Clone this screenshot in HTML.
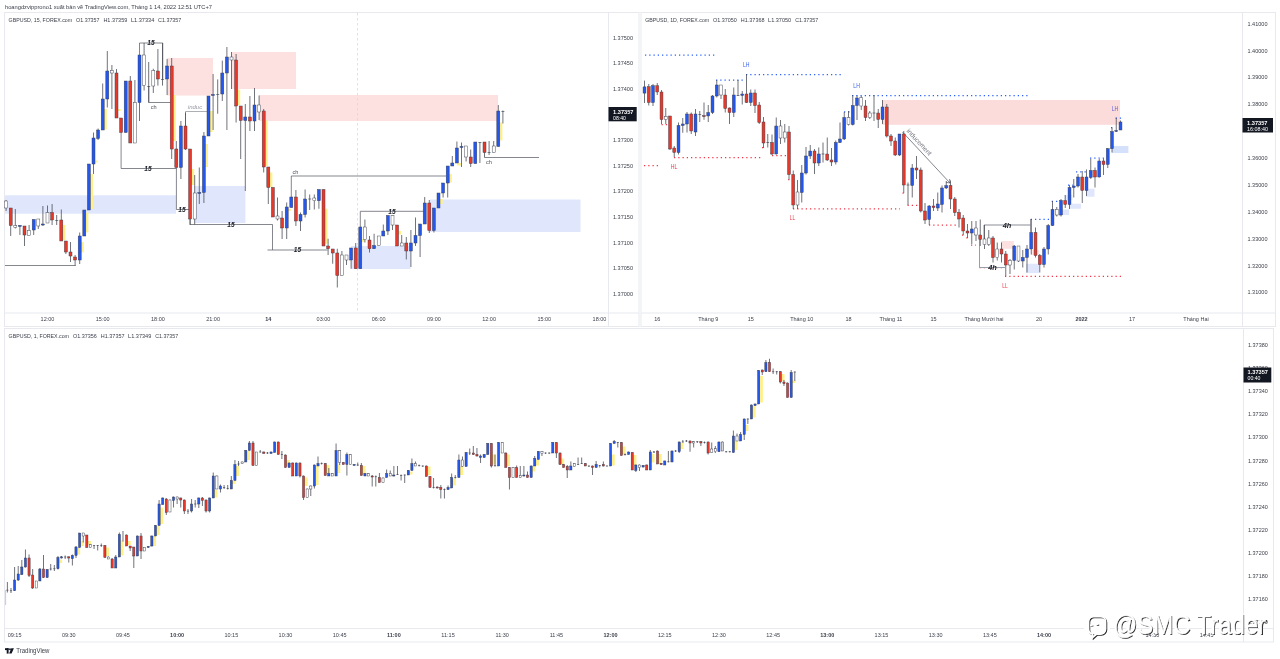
<!DOCTYPE html><html><head><meta charset="utf-8"><style>html,body{margin:0;padding:0;background:#fff}svg{display:block;will-change:transform;filter:blur(0.35px)}</style></head><body><svg width="1280" height="659" viewBox="0 0 1280 659" font-family="'Liberation Sans', sans-serif">
<rect width="1280" height="659" fill="#ffffff"/>
<rect x="4.5" y="12.5" width="634.5" height="314.0" fill="none" stroke="#e7e9ee" stroke-width="1"/>
<line x1="608.5" y1="12.5" x2="608.5" y2="326.5" stroke="#e7e9ee" stroke-width="1"/>
<line x1="4.5" y1="313" x2="639" y2="313" stroke="#e7e9ee" stroke-width="1"/>
<rect x="641" y="12.5" width="634.5" height="314.0" fill="none" stroke="#e7e9ee" stroke-width="1"/>
<line x1="1242.5" y1="12.5" x2="1242.5" y2="326.5" stroke="#e7e9ee" stroke-width="1"/>
<line x1="641" y1="313" x2="1275.5" y2="313" stroke="#e7e9ee" stroke-width="1"/>
<rect x="4.5" y="328.5" width="1269.0" height="313.5" fill="none" stroke="#e7e9ee" stroke-width="1"/>
<line x1="1243.5" y1="328.5" x2="1243.5" y2="642" stroke="#e7e9ee" stroke-width="1"/>
<line x1="4.5" y1="628.5" x2="1273.5" y2="628.5" stroke="#e7e9ee" stroke-width="1"/>
<text x="5" y="9.2" font-size="6.2" text-anchor="start" fill="#3b3f4a" font-weight="normal" font-style="normal" textLength="207" lengthAdjust="spacingAndGlyphs">hoangdzvipprono1 xuất bản về TradingView.com, Tháng 1 14, 2022 12:51 UTC+7</text>
<text x="8.6" y="22.1" font-size="5.6" text-anchor="start" fill="#3b3f4a" font-weight="normal" font-style="normal" textLength="63.6" lengthAdjust="spacingAndGlyphs">GBPUSD, 15, FOREX.com</text>
<text x="76.1" y="22.1" font-size="5.6" text-anchor="start" fill="#3b3f4a" font-weight="normal" font-style="normal" textLength="23.4" lengthAdjust="spacingAndGlyphs">O1.37357</text>
<text x="103.4" y="22.1" font-size="5.6" text-anchor="start" fill="#3b3f4a" font-weight="normal" font-style="normal" textLength="23.9" lengthAdjust="spacingAndGlyphs">H1.37359</text>
<text x="130.9" y="22.1" font-size="5.6" text-anchor="start" fill="#3b3f4a" font-weight="normal" font-style="normal" textLength="23.5" lengthAdjust="spacingAndGlyphs">L1.37334</text>
<text x="158.1" y="22.1" font-size="5.6" text-anchor="start" fill="#3b3f4a" font-weight="normal" font-style="normal" textLength="23.2" lengthAdjust="spacingAndGlyphs">C1.37357</text>
<text x="645.2" y="22.1" font-size="5.6" text-anchor="start" fill="#3b3f4a" font-weight="normal" font-style="normal" textLength="64.0" lengthAdjust="spacingAndGlyphs">GBPUSD, 1D, FOREX.com</text>
<text x="713.1" y="22.1" font-size="5.6" text-anchor="start" fill="#3b3f4a" font-weight="normal" font-style="normal" textLength="23.8" lengthAdjust="spacingAndGlyphs">O1.37050</text>
<text x="740.8" y="22.1" font-size="5.6" text-anchor="start" fill="#3b3f4a" font-weight="normal" font-style="normal" textLength="23.7" lengthAdjust="spacingAndGlyphs">H1.37368</text>
<text x="768.1" y="22.1" font-size="5.6" text-anchor="start" fill="#3b3f4a" font-weight="normal" font-style="normal" textLength="23.1" lengthAdjust="spacingAndGlyphs">L1.37050</text>
<text x="795.2" y="22.1" font-size="5.6" text-anchor="start" fill="#3b3f4a" font-weight="normal" font-style="normal" textLength="22.9" lengthAdjust="spacingAndGlyphs">C1.37357</text>
<text x="8.6" y="338.1" font-size="5.6" text-anchor="start" fill="#3b3f4a" font-weight="normal" font-style="normal" textLength="60.4" lengthAdjust="spacingAndGlyphs">GBPUSD, 1, FOREX.com</text>
<text x="73" y="338.1" font-size="5.6" text-anchor="start" fill="#3b3f4a" font-weight="normal" font-style="normal" textLength="23.9" lengthAdjust="spacingAndGlyphs">O1.37356</text>
<text x="100.8" y="338.1" font-size="5.6" text-anchor="start" fill="#3b3f4a" font-weight="normal" font-style="normal" textLength="23.7" lengthAdjust="spacingAndGlyphs">H1.37357</text>
<text x="128.1" y="338.1" font-size="5.6" text-anchor="start" fill="#3b3f4a" font-weight="normal" font-style="normal" textLength="23.2" lengthAdjust="spacingAndGlyphs">L1.37349</text>
<text x="155.2" y="338.1" font-size="5.6" text-anchor="start" fill="#3b3f4a" font-weight="normal" font-style="normal" textLength="22.9" lengthAdjust="spacingAndGlyphs">C1.37357</text>
<rect x="5" y="195.3" width="171" height="18.399999999999977" fill="#e0e7fd"/>
<rect x="194.5" y="186" width="50.900000000000006" height="37" fill="#e0e7fd"/>
<rect x="351" y="246" width="59.5" height="23" fill="#e0e7fd"/>
<rect x="430" y="199.5" width="150.5" height="32.5" fill="#e0e7fd"/>
<rect x="167" y="58" width="46" height="37.599999999999994" fill="#fde1e1"/>
<rect x="231.6" y="52" width="64.4" height="37" fill="#fde1e1"/>
<rect x="259" y="95" width="239" height="26" fill="#fde1e1"/>
<line x1="357.5" y1="13" x2="357.5" y2="313" stroke="#d2d4da" stroke-width="0.7" stroke-dasharray="2.5 2.5"/>
<line x1="5" y1="265.5" x2="75.75" y2="265.5" stroke="#50535e" stroke-width="0.7"/>
<polyline points="139.5,55 139.5,43 162.75,43 162.75,79" fill="none" stroke="#50535e" stroke-width="0.7"/>
<polyline points="148.75,86 148.75,102.5 171,102.5" fill="none" stroke="#50535e" stroke-width="0.7"/>
<polyline points="121.1,132.5 121.1,168.5 176.4,168.5" fill="none" stroke="#50535e" stroke-width="0.7"/>
<polyline points="176.4,167.5 176.4,209.5 189.5,209.5" fill="none" stroke="#50535e" stroke-width="0.7"/>
<polyline points="185.5,126 185.5,111.5 207,111.5" fill="none" stroke="#8a8d96" stroke-width="0.7"/>
<polyline points="190.1,219 190.1,224.5 272.5,224.5" fill="none" stroke="#50535e" stroke-width="0.7"/>
<polyline points="272.5,224.5 272.5,250 327.5,250" fill="none" stroke="#50535e" stroke-width="0.7"/>
<line x1="267.5" y1="250" x2="272.5" y2="250" stroke="#50535e" stroke-width="0.7"/>
<polyline points="291.3,197 291.3,176 446,176" fill="none" stroke="#50535e" stroke-width="0.7"/>
<polyline points="360.3,227 360.3,211.3 424,211.3" fill="none" stroke="#50535e" stroke-width="0.7"/>
<line x1="484.5" y1="157.5" x2="539" y2="157.5" stroke="#50535e" stroke-width="0.7"/>
<rect x="61.60" y="225" width="3.80" height="15.00" fill="#fff08c"/>
<rect x="80.00" y="242" width="3.80" height="10.50" fill="#fff08c"/>
<rect x="84.60" y="212.5" width="3.80" height="20.00" fill="#fff08c"/>
<rect x="89.20" y="174" width="3.80" height="35.00" fill="#fff08c"/>
<rect x="93.80" y="160.5" width="3.80" height="2.00" fill="#fff08c"/>
<rect x="103.00" y="109" width="3.80" height="20.50" fill="#fff08c"/>
<rect x="116.80" y="109" width="3.80" height="2.00" fill="#fff08c"/>
<rect x="172.00" y="95" width="3.80" height="46.00" fill="#fff08c"/>
<rect x="190.40" y="169" width="3.80" height="16.00" fill="#fff08c"/>
<rect x="204.20" y="144" width="3.80" height="23.00" fill="#fff08c"/>
<rect x="208.80" y="111" width="3.80" height="21.00" fill="#fff08c"/>
<rect x="236.40" y="89.5" width="3.80" height="15.50" fill="#fff08c"/>
<rect x="264.00" y="120.5" width="3.80" height="45.50" fill="#fff08c"/>
<rect x="268.60" y="172.5" width="3.80" height="14.50" fill="#fff08c"/>
<rect x="287.00" y="208.75" width="3.80" height="2.25" fill="#fff08c"/>
<rect x="323.80" y="208.75" width="3.80" height="35.00" fill="#fff08c"/>
<rect x="360.60" y="239" width="3.80" height="3.00" fill="#fff08c"/>
<rect x="397.40" y="231" width="3.80" height="3.50" fill="#fff08c"/>
<rect x="438.80" y="199" width="3.80" height="5.00" fill="#fff08c"/>
<rect x="448.00" y="174" width="3.80" height="8.50" fill="#fff08c"/>
<rect x="457.20" y="163" width="3.80" height="2.50" fill="#fff08c"/>
<rect x="498.60" y="122.5" width="3.80" height="18.00" fill="#fff08c"/>
<line x1="6.10" y1="200" x2="6.10" y2="211" stroke="#41444f" stroke-width="0.75"/>
<rect x="4.60" y="201" width="3.0" height="7.00" fill="#ffffff" stroke="#3a3d4a" stroke-width="0.45"/>
<line x1="10.70" y1="208" x2="10.70" y2="236" stroke="#41444f" stroke-width="0.75"/>
<rect x="9.20" y="208" width="3.0" height="17.50" fill="#e8382a" stroke="#3a3d4a" stroke-width="0.45"/>
<line x1="15.30" y1="209" x2="15.30" y2="228.5" stroke="#41444f" stroke-width="0.75"/>
<rect x="13.80" y="225.6" width="3.0" height="1.90" fill="#ffffff" stroke="#3a3d4a" stroke-width="0.45"/>
<line x1="19.90" y1="225" x2="19.90" y2="235" stroke="#41444f" stroke-width="0.75"/>
<rect x="18.40" y="225.5" width="3.0" height="1.00" fill="#2457ee" stroke="#3a3d4a" stroke-width="0.45"/>
<line x1="24.50" y1="226" x2="24.50" y2="246" stroke="#41444f" stroke-width="0.75"/>
<rect x="23.00" y="226" width="3.0" height="9.00" fill="#e8382a" stroke="#3a3d4a" stroke-width="0.45"/>
<line x1="29.10" y1="225" x2="29.10" y2="235.5" stroke="#41444f" stroke-width="0.75"/>
<rect x="27.60" y="230.5" width="3.0" height="5.00" fill="#ffffff" stroke="#3a3d4a" stroke-width="0.45"/>
<line x1="33.70" y1="219.5" x2="33.70" y2="235" stroke="#41444f" stroke-width="0.75"/>
<rect x="32.20" y="219.5" width="3.0" height="10.50" fill="#2457ee" stroke="#3a3d4a" stroke-width="0.45"/>
<line x1="38.30" y1="219" x2="38.30" y2="229" stroke="#41444f" stroke-width="0.75"/>
<rect x="36.80" y="219" width="3.0" height="7.00" fill="#ffffff" stroke="#3a3d4a" stroke-width="0.45"/>
<line x1="42.90" y1="206" x2="42.90" y2="226" stroke="#41444f" stroke-width="0.75"/>
<rect x="41.40" y="224" width="3.0" height="1.00" fill="#2457ee" stroke="#3a3d4a" stroke-width="0.45"/>
<line x1="47.50" y1="205.5" x2="47.50" y2="223" stroke="#41444f" stroke-width="0.75"/>
<rect x="46.00" y="212.5" width="3.0" height="10.50" fill="#ffffff" stroke="#3a3d4a" stroke-width="0.45"/>
<line x1="52.10" y1="204" x2="52.10" y2="225" stroke="#41444f" stroke-width="0.75"/>
<rect x="50.60" y="212.5" width="3.0" height="7.50" fill="#e8382a" stroke="#3a3d4a" stroke-width="0.45"/>
<line x1="56.70" y1="215" x2="56.70" y2="225" stroke="#41444f" stroke-width="0.75"/>
<rect x="55.20" y="220" width="3.0" height="0.60" fill="#3a3d4a"/>
<line x1="61.30" y1="209.5" x2="61.30" y2="241" stroke="#41444f" stroke-width="0.75"/>
<rect x="59.80" y="220" width="3.0" height="21.00" fill="#e8382a" stroke="#3a3d4a" stroke-width="0.45"/>
<line x1="65.90" y1="241" x2="65.90" y2="254" stroke="#41444f" stroke-width="0.75"/>
<rect x="64.40" y="241" width="3.0" height="11.00" fill="#e8382a" stroke="#3a3d4a" stroke-width="0.45"/>
<line x1="70.50" y1="242" x2="70.50" y2="262" stroke="#41444f" stroke-width="0.75"/>
<rect x="69.00" y="252" width="3.0" height="4.00" fill="#e8382a" stroke="#3a3d4a" stroke-width="0.45"/>
<line x1="75.10" y1="255" x2="75.10" y2="265.5" stroke="#41444f" stroke-width="0.75"/>
<rect x="73.60" y="257" width="3.0" height="3.00" fill="#e8382a" stroke="#3a3d4a" stroke-width="0.45"/>
<line x1="79.70" y1="232.5" x2="79.70" y2="264" stroke="#41444f" stroke-width="0.75"/>
<rect x="78.20" y="236" width="3.0" height="24.00" fill="#2457ee" stroke="#3a3d4a" stroke-width="0.45"/>
<line x1="84.30" y1="210" x2="84.30" y2="236" stroke="#41444f" stroke-width="0.75"/>
<rect x="82.80" y="210" width="3.0" height="26.00" fill="#2457ee" stroke="#3a3d4a" stroke-width="0.45"/>
<line x1="88.90" y1="164" x2="88.90" y2="210" stroke="#41444f" stroke-width="0.75"/>
<rect x="87.40" y="164" width="3.0" height="46.00" fill="#2457ee" stroke="#3a3d4a" stroke-width="0.45"/>
<line x1="93.50" y1="132.5" x2="93.50" y2="174" stroke="#41444f" stroke-width="0.75"/>
<rect x="92.00" y="138" width="3.0" height="26.00" fill="#2457ee" stroke="#3a3d4a" stroke-width="0.45"/>
<line x1="98.10" y1="128.5" x2="98.10" y2="140" stroke="#41444f" stroke-width="0.75"/>
<rect x="96.60" y="130" width="3.0" height="8.50" fill="#2457ee" stroke="#3a3d4a" stroke-width="0.45"/>
<line x1="102.70" y1="83.5" x2="102.70" y2="130" stroke="#41444f" stroke-width="0.75"/>
<rect x="101.20" y="99" width="3.0" height="31.00" fill="#2457ee" stroke="#3a3d4a" stroke-width="0.45"/>
<line x1="107.30" y1="51" x2="107.30" y2="107.5" stroke="#41444f" stroke-width="0.75"/>
<rect x="105.80" y="71" width="3.0" height="28.00" fill="#2457ee" stroke="#3a3d4a" stroke-width="0.45"/>
<line x1="111.90" y1="65" x2="111.90" y2="109" stroke="#41444f" stroke-width="0.75"/>
<rect x="110.40" y="70.6" width="3.0" height="2.40" fill="#ffffff" stroke="#3a3d4a" stroke-width="0.45"/>
<line x1="116.50" y1="69" x2="116.50" y2="118" stroke="#41444f" stroke-width="0.75"/>
<rect x="115.00" y="73" width="3.0" height="45.00" fill="#e8382a" stroke="#3a3d4a" stroke-width="0.45"/>
<line x1="121.10" y1="118" x2="121.10" y2="132.5" stroke="#41444f" stroke-width="0.75"/>
<rect x="119.60" y="118" width="3.0" height="14.50" fill="#e8382a" stroke="#3a3d4a" stroke-width="0.45"/>
<line x1="125.70" y1="81" x2="125.70" y2="132.5" stroke="#41444f" stroke-width="0.75"/>
<rect x="124.20" y="81" width="3.0" height="51.50" fill="#2457ee" stroke="#3a3d4a" stroke-width="0.45"/>
<line x1="130.30" y1="76" x2="130.30" y2="143" stroke="#41444f" stroke-width="0.75"/>
<rect x="128.80" y="81" width="3.0" height="62.00" fill="#e8382a" stroke="#3a3d4a" stroke-width="0.45"/>
<line x1="134.90" y1="80" x2="134.90" y2="143" stroke="#41444f" stroke-width="0.75"/>
<rect x="133.40" y="102.5" width="3.0" height="40.50" fill="#ffffff" stroke="#3a3d4a" stroke-width="0.45"/>
<line x1="139.50" y1="55" x2="139.50" y2="121" stroke="#41444f" stroke-width="0.75"/>
<rect x="138.00" y="55" width="3.0" height="47.50" fill="#2457ee" stroke="#3a3d4a" stroke-width="0.45"/>
<line x1="144.10" y1="43" x2="144.10" y2="90.5" stroke="#41444f" stroke-width="0.75"/>
<rect x="142.60" y="55" width="3.0" height="30.50" fill="#ffffff" stroke="#3a3d4a" stroke-width="0.45"/>
<line x1="148.70" y1="62" x2="148.70" y2="102.5" stroke="#41444f" stroke-width="0.75"/>
<rect x="147.20" y="86" width="3.0" height="0.60" fill="#3a3d4a"/>
<line x1="153.30" y1="68.75" x2="153.30" y2="93" stroke="#41444f" stroke-width="0.75"/>
<rect x="151.80" y="70.6" width="3.0" height="15.40" fill="#ffffff" stroke="#3a3d4a" stroke-width="0.45"/>
<line x1="157.90" y1="49" x2="157.90" y2="85.6" stroke="#41444f" stroke-width="0.75"/>
<rect x="156.40" y="71" width="3.0" height="8.00" fill="#e8382a" stroke="#3a3d4a" stroke-width="0.45"/>
<line x1="162.50" y1="43" x2="162.50" y2="85.6" stroke="#41444f" stroke-width="0.75"/>
<rect x="161.00" y="79.2" width="3.0" height="0.60" fill="#3a3d4a"/>
<line x1="167.10" y1="59" x2="167.10" y2="95" stroke="#41444f" stroke-width="0.75"/>
<rect x="165.60" y="66" width="3.0" height="13.00" fill="#2457ee" stroke="#3a3d4a" stroke-width="0.45"/>
<line x1="171.70" y1="58" x2="171.70" y2="159" stroke="#41444f" stroke-width="0.75"/>
<rect x="170.20" y="66" width="3.0" height="83.00" fill="#e8382a" stroke="#3a3d4a" stroke-width="0.45"/>
<line x1="176.30" y1="141" x2="176.30" y2="167.5" stroke="#41444f" stroke-width="0.75"/>
<rect x="174.80" y="149" width="3.0" height="18.50" fill="#e8382a" stroke="#3a3d4a" stroke-width="0.45"/>
<line x1="180.90" y1="121" x2="180.90" y2="179" stroke="#41444f" stroke-width="0.75"/>
<rect x="179.40" y="126" width="3.0" height="41.50" fill="#2457ee" stroke="#3a3d4a" stroke-width="0.45"/>
<line x1="185.50" y1="112.5" x2="185.50" y2="150" stroke="#41444f" stroke-width="0.75"/>
<rect x="184.00" y="126" width="3.0" height="23.00" fill="#e8382a" stroke="#3a3d4a" stroke-width="0.45"/>
<line x1="190.10" y1="149" x2="190.10" y2="225" stroke="#41444f" stroke-width="0.75"/>
<rect x="188.60" y="149" width="3.0" height="70.00" fill="#e8382a" stroke="#3a3d4a" stroke-width="0.45"/>
<line x1="194.70" y1="175" x2="194.70" y2="224.5" stroke="#41444f" stroke-width="0.75"/>
<rect x="193.20" y="193" width="3.0" height="26.00" fill="#ffffff" stroke="#3a3d4a" stroke-width="0.45"/>
<line x1="199.30" y1="167.5" x2="199.30" y2="204" stroke="#41444f" stroke-width="0.75"/>
<rect x="197.80" y="192.5" width="3.0" height="1.00" fill="#2457ee" stroke="#3a3d4a" stroke-width="0.45"/>
<line x1="203.90" y1="132" x2="203.90" y2="203" stroke="#41444f" stroke-width="0.75"/>
<rect x="202.40" y="136" width="3.0" height="56.50" fill="#2457ee" stroke="#3a3d4a" stroke-width="0.45"/>
<line x1="208.50" y1="96" x2="208.50" y2="136" stroke="#41444f" stroke-width="0.75"/>
<rect x="207.00" y="96" width="3.0" height="40.00" fill="#2457ee" stroke="#3a3d4a" stroke-width="0.45"/>
<line x1="213.10" y1="74" x2="213.10" y2="130" stroke="#41444f" stroke-width="0.75"/>
<rect x="211.60" y="94.5" width="3.0" height="1.00" fill="#2457ee" stroke="#3a3d4a" stroke-width="0.45"/>
<line x1="217.70" y1="79.4" x2="217.70" y2="113.75" stroke="#41444f" stroke-width="0.75"/>
<rect x="216.20" y="94.2" width="3.0" height="0.60" fill="#3a3d4a"/>
<line x1="222.30" y1="60.6" x2="222.30" y2="101" stroke="#41444f" stroke-width="0.75"/>
<rect x="220.80" y="73" width="3.0" height="21.00" fill="#2457ee" stroke="#3a3d4a" stroke-width="0.45"/>
<line x1="226.90" y1="47" x2="226.90" y2="130" stroke="#41444f" stroke-width="0.75"/>
<rect x="225.40" y="57" width="3.0" height="16.00" fill="#2457ee" stroke="#3a3d4a" stroke-width="0.45"/>
<line x1="231.50" y1="52" x2="231.50" y2="89" stroke="#41444f" stroke-width="0.75"/>
<rect x="230.00" y="57" width="3.0" height="3.00" fill="#ffffff" stroke="#3a3d4a" stroke-width="0.45"/>
<line x1="236.10" y1="54" x2="236.10" y2="122.5" stroke="#41444f" stroke-width="0.75"/>
<rect x="234.60" y="60" width="3.0" height="46.00" fill="#e8382a" stroke="#3a3d4a" stroke-width="0.45"/>
<line x1="240.70" y1="106" x2="240.70" y2="159" stroke="#41444f" stroke-width="0.75"/>
<rect x="239.20" y="106" width="3.0" height="14.50" fill="#e8382a" stroke="#3a3d4a" stroke-width="0.45"/>
<line x1="245.30" y1="104" x2="245.30" y2="191" stroke="#41444f" stroke-width="0.75"/>
<rect x="243.80" y="117" width="3.0" height="3.50" fill="#2457ee" stroke="#3a3d4a" stroke-width="0.45"/>
<line x1="249.90" y1="96" x2="249.90" y2="131" stroke="#41444f" stroke-width="0.75"/>
<rect x="248.40" y="117" width="3.0" height="4.00" fill="#e8382a" stroke="#3a3d4a" stroke-width="0.45"/>
<line x1="254.50" y1="88" x2="254.50" y2="131" stroke="#41444f" stroke-width="0.75"/>
<rect x="253.00" y="105" width="3.0" height="16.00" fill="#2457ee" stroke="#3a3d4a" stroke-width="0.45"/>
<line x1="259.10" y1="95.5" x2="259.10" y2="120" stroke="#41444f" stroke-width="0.75"/>
<rect x="257.60" y="105" width="3.0" height="7.00" fill="#ffffff" stroke="#3a3d4a" stroke-width="0.45"/>
<line x1="263.70" y1="109" x2="263.70" y2="172.5" stroke="#41444f" stroke-width="0.75"/>
<rect x="262.20" y="111" width="3.0" height="56.00" fill="#e8382a" stroke="#3a3d4a" stroke-width="0.45"/>
<line x1="268.30" y1="167" x2="268.30" y2="204" stroke="#41444f" stroke-width="0.75"/>
<rect x="266.80" y="167" width="3.0" height="20.50" fill="#e8382a" stroke="#3a3d4a" stroke-width="0.45"/>
<line x1="272.90" y1="187.5" x2="272.90" y2="217" stroke="#41444f" stroke-width="0.75"/>
<rect x="271.40" y="187.5" width="3.0" height="29.50" fill="#e8382a" stroke="#3a3d4a" stroke-width="0.45"/>
<line x1="277.50" y1="197.5" x2="277.50" y2="220.5" stroke="#41444f" stroke-width="0.75"/>
<rect x="276.00" y="216" width="3.0" height="3.00" fill="#ffffff" stroke="#3a3d4a" stroke-width="0.45"/>
<line x1="282.10" y1="211" x2="282.10" y2="239" stroke="#41444f" stroke-width="0.75"/>
<rect x="280.60" y="218" width="3.0" height="10.00" fill="#e8382a" stroke="#3a3d4a" stroke-width="0.45"/>
<line x1="286.70" y1="202.5" x2="286.70" y2="239" stroke="#41444f" stroke-width="0.75"/>
<rect x="285.20" y="207" width="3.0" height="21.00" fill="#2457ee" stroke="#3a3d4a" stroke-width="0.45"/>
<line x1="291.30" y1="197" x2="291.30" y2="207.5" stroke="#41444f" stroke-width="0.75"/>
<rect x="289.80" y="197" width="3.0" height="10.50" fill="#2457ee" stroke="#3a3d4a" stroke-width="0.45"/>
<line x1="295.90" y1="190" x2="295.90" y2="226" stroke="#41444f" stroke-width="0.75"/>
<rect x="294.40" y="197" width="3.0" height="24.00" fill="#e8382a" stroke="#3a3d4a" stroke-width="0.45"/>
<line x1="300.50" y1="212.5" x2="300.50" y2="231" stroke="#41444f" stroke-width="0.75"/>
<rect x="299.00" y="214.5" width="3.0" height="6.50" fill="#2457ee" stroke="#3a3d4a" stroke-width="0.45"/>
<line x1="305.10" y1="189.5" x2="305.10" y2="217.5" stroke="#41444f" stroke-width="0.75"/>
<rect x="303.60" y="199" width="3.0" height="15.50" fill="#2457ee" stroke="#3a3d4a" stroke-width="0.45"/>
<line x1="309.70" y1="194.5" x2="309.70" y2="210" stroke="#41444f" stroke-width="0.75"/>
<rect x="308.20" y="198.7" width="3.0" height="0.60" fill="#3a3d4a"/>
<line x1="314.30" y1="194.5" x2="314.30" y2="209.5" stroke="#41444f" stroke-width="0.75"/>
<rect x="312.80" y="198" width="3.0" height="2.75" fill="#ffffff" stroke="#3a3d4a" stroke-width="0.45"/>
<line x1="318.90" y1="189.5" x2="318.90" y2="208.75" stroke="#41444f" stroke-width="0.75"/>
<rect x="317.40" y="189.5" width="3.0" height="11.25" fill="#2457ee" stroke="#3a3d4a" stroke-width="0.45"/>
<line x1="323.50" y1="189.5" x2="323.50" y2="246" stroke="#41444f" stroke-width="0.75"/>
<rect x="322.00" y="189.5" width="3.0" height="56.50" fill="#e8382a" stroke="#3a3d4a" stroke-width="0.45"/>
<line x1="328.10" y1="238.75" x2="328.10" y2="255" stroke="#41444f" stroke-width="0.75"/>
<rect x="326.60" y="246" width="3.0" height="2.75" fill="#e8382a" stroke="#3a3d4a" stroke-width="0.45"/>
<line x1="332.70" y1="249" x2="332.70" y2="263.75" stroke="#41444f" stroke-width="0.75"/>
<rect x="331.20" y="249" width="3.0" height="4.00" fill="#e8382a" stroke="#3a3d4a" stroke-width="0.45"/>
<line x1="337.30" y1="248.75" x2="337.30" y2="287.5" stroke="#41444f" stroke-width="0.75"/>
<rect x="335.80" y="253" width="3.0" height="22.50" fill="#e8382a" stroke="#3a3d4a" stroke-width="0.45"/>
<line x1="341.90" y1="251" x2="341.90" y2="275.5" stroke="#41444f" stroke-width="0.75"/>
<rect x="340.40" y="255" width="3.0" height="20.50" fill="#ffffff" stroke="#3a3d4a" stroke-width="0.45"/>
<line x1="346.50" y1="255" x2="346.50" y2="265" stroke="#41444f" stroke-width="0.75"/>
<rect x="345.00" y="255" width="3.0" height="5.00" fill="#ffffff" stroke="#3a3d4a" stroke-width="0.45"/>
<line x1="351.10" y1="248" x2="351.10" y2="268.75" stroke="#41444f" stroke-width="0.75"/>
<rect x="349.60" y="248" width="3.0" height="12.00" fill="#2457ee" stroke="#3a3d4a" stroke-width="0.45"/>
<line x1="355.70" y1="243" x2="355.70" y2="268.75" stroke="#41444f" stroke-width="0.75"/>
<rect x="354.20" y="248" width="3.0" height="20.75" fill="#e8382a" stroke="#3a3d4a" stroke-width="0.45"/>
<line x1="360.30" y1="227" x2="360.30" y2="268.75" stroke="#41444f" stroke-width="0.75"/>
<rect x="358.80" y="227" width="3.0" height="41.75" fill="#2457ee" stroke="#3a3d4a" stroke-width="0.45"/>
<line x1="364.90" y1="219.5" x2="364.90" y2="242.5" stroke="#41444f" stroke-width="0.75"/>
<rect x="363.40" y="227" width="3.0" height="12.50" fill="#ffffff" stroke="#3a3d4a" stroke-width="0.45"/>
<line x1="369.50" y1="236" x2="369.50" y2="252.5" stroke="#41444f" stroke-width="0.75"/>
<rect x="368.00" y="240" width="3.0" height="8.75" fill="#e8382a" stroke="#3a3d4a" stroke-width="0.45"/>
<line x1="374.10" y1="233.75" x2="374.10" y2="248.75" stroke="#41444f" stroke-width="0.75"/>
<rect x="372.60" y="245.5" width="3.0" height="3.25" fill="#2457ee" stroke="#3a3d4a" stroke-width="0.45"/>
<line x1="378.70" y1="236" x2="378.70" y2="245.5" stroke="#41444f" stroke-width="0.75"/>
<rect x="377.20" y="236" width="3.0" height="9.50" fill="#ffffff" stroke="#3a3d4a" stroke-width="0.45"/>
<line x1="383.30" y1="224.5" x2="383.30" y2="236" stroke="#41444f" stroke-width="0.75"/>
<rect x="381.80" y="231" width="3.0" height="5.00" fill="#2457ee" stroke="#3a3d4a" stroke-width="0.45"/>
<line x1="387.90" y1="215.5" x2="387.90" y2="235" stroke="#41444f" stroke-width="0.75"/>
<rect x="386.40" y="215.5" width="3.0" height="15.50" fill="#2457ee" stroke="#3a3d4a" stroke-width="0.45"/>
<line x1="392.50" y1="215.5" x2="392.50" y2="230" stroke="#41444f" stroke-width="0.75"/>
<rect x="391.00" y="215.5" width="3.0" height="9.50" fill="#ffffff" stroke="#3a3d4a" stroke-width="0.45"/>
<line x1="397.10" y1="225" x2="397.10" y2="246" stroke="#41444f" stroke-width="0.75"/>
<rect x="395.60" y="225" width="3.0" height="21.00" fill="#e8382a" stroke="#3a3d4a" stroke-width="0.45"/>
<line x1="401.70" y1="235" x2="401.70" y2="246" stroke="#41444f" stroke-width="0.75"/>
<rect x="400.20" y="243" width="3.0" height="3.00" fill="#ffffff" stroke="#3a3d4a" stroke-width="0.45"/>
<line x1="406.30" y1="237" x2="406.30" y2="259.5" stroke="#41444f" stroke-width="0.75"/>
<rect x="404.80" y="243" width="3.0" height="8.00" fill="#e8382a" stroke="#3a3d4a" stroke-width="0.45"/>
<line x1="410.90" y1="230" x2="410.90" y2="267" stroke="#41444f" stroke-width="0.75"/>
<rect x="409.40" y="243" width="3.0" height="8.00" fill="#2457ee" stroke="#3a3d4a" stroke-width="0.45"/>
<line x1="415.50" y1="217.5" x2="415.50" y2="246" stroke="#41444f" stroke-width="0.75"/>
<rect x="414.00" y="235.5" width="3.0" height="7.50" fill="#2457ee" stroke="#3a3d4a" stroke-width="0.45"/>
<line x1="420.10" y1="224" x2="420.10" y2="257" stroke="#41444f" stroke-width="0.75"/>
<rect x="418.60" y="224" width="3.0" height="11.50" fill="#2457ee" stroke="#3a3d4a" stroke-width="0.45"/>
<line x1="424.70" y1="197" x2="424.70" y2="224" stroke="#41444f" stroke-width="0.75"/>
<rect x="423.20" y="203" width="3.0" height="21.00" fill="#2457ee" stroke="#3a3d4a" stroke-width="0.45"/>
<line x1="429.30" y1="200" x2="429.30" y2="233" stroke="#41444f" stroke-width="0.75"/>
<rect x="427.80" y="203" width="3.0" height="27.50" fill="#e8382a" stroke="#3a3d4a" stroke-width="0.45"/>
<line x1="433.90" y1="208" x2="433.90" y2="232.5" stroke="#41444f" stroke-width="0.75"/>
<rect x="432.40" y="208" width="3.0" height="22.50" fill="#2457ee" stroke="#3a3d4a" stroke-width="0.45"/>
<line x1="438.50" y1="193" x2="438.50" y2="208" stroke="#41444f" stroke-width="0.75"/>
<rect x="437.00" y="193" width="3.0" height="15.00" fill="#2457ee" stroke="#3a3d4a" stroke-width="0.45"/>
<line x1="443.10" y1="183" x2="443.10" y2="197.5" stroke="#41444f" stroke-width="0.75"/>
<rect x="441.60" y="183" width="3.0" height="10.00" fill="#2457ee" stroke="#3a3d4a" stroke-width="0.45"/>
<line x1="447.70" y1="166" x2="447.70" y2="197.5" stroke="#41444f" stroke-width="0.75"/>
<rect x="446.20" y="166" width="3.0" height="17.00" fill="#2457ee" stroke="#3a3d4a" stroke-width="0.45"/>
<line x1="452.30" y1="156" x2="452.30" y2="166" stroke="#41444f" stroke-width="0.75"/>
<rect x="450.80" y="163" width="3.0" height="3.00" fill="#2457ee" stroke="#3a3d4a" stroke-width="0.45"/>
<line x1="456.90" y1="141.5" x2="456.90" y2="163" stroke="#41444f" stroke-width="0.75"/>
<rect x="455.40" y="148" width="3.0" height="15.00" fill="#2457ee" stroke="#3a3d4a" stroke-width="0.45"/>
<line x1="461.50" y1="142.5" x2="461.50" y2="167" stroke="#41444f" stroke-width="0.75"/>
<rect x="460.00" y="146.5" width="3.0" height="1.00" fill="#2457ee" stroke="#3a3d4a" stroke-width="0.45"/>
<line x1="466.10" y1="146" x2="466.10" y2="161.5" stroke="#41444f" stroke-width="0.75"/>
<rect x="464.60" y="146" width="3.0" height="11.00" fill="#ffffff" stroke="#3a3d4a" stroke-width="0.45"/>
<line x1="470.70" y1="149.5" x2="470.70" y2="167" stroke="#41444f" stroke-width="0.75"/>
<rect x="469.20" y="157" width="3.0" height="6.50" fill="#e8382a" stroke="#3a3d4a" stroke-width="0.45"/>
<line x1="475.30" y1="142" x2="475.30" y2="163.5" stroke="#41444f" stroke-width="0.75"/>
<rect x="473.80" y="142" width="3.0" height="21.50" fill="#2457ee" stroke="#3a3d4a" stroke-width="0.45"/>
<line x1="479.90" y1="142" x2="479.90" y2="163" stroke="#41444f" stroke-width="0.75"/>
<rect x="478.40" y="142.2" width="3.0" height="0.60" fill="#3a3d4a"/>
<line x1="484.50" y1="142" x2="484.50" y2="157.5" stroke="#41444f" stroke-width="0.75"/>
<rect x="483.00" y="142" width="3.0" height="10.50" fill="#e8382a" stroke="#3a3d4a" stroke-width="0.45"/>
<line x1="489.10" y1="141" x2="489.10" y2="155" stroke="#41444f" stroke-width="0.75"/>
<rect x="487.60" y="152.2" width="3.0" height="0.60" fill="#3a3d4a"/>
<line x1="493.70" y1="141" x2="493.70" y2="152.5" stroke="#41444f" stroke-width="0.75"/>
<rect x="492.20" y="146" width="3.0" height="6.50" fill="#ffffff" stroke="#3a3d4a" stroke-width="0.45"/>
<line x1="498.30" y1="105" x2="498.30" y2="146.5" stroke="#41444f" stroke-width="0.75"/>
<rect x="496.80" y="111" width="3.0" height="35.50" fill="#2457ee" stroke="#3a3d4a" stroke-width="0.45"/>
<line x1="502.90" y1="110.5" x2="502.90" y2="123.5" stroke="#41444f" stroke-width="0.75"/>
<rect x="501.40" y="111" width="3.0" height="0.60" fill="#3a3d4a"/>
<text x="151" y="45.376" font-size="6.6" text-anchor="middle" fill="#1c1f28" font-weight="bold" font-style="italic">15</text>
<text x="148" y="170.876" font-size="6.6" text-anchor="middle" fill="#1c1f28" font-weight="bold" font-style="italic">15</text>
<text x="182" y="211.876" font-size="6.6" text-anchor="middle" fill="#1c1f28" font-weight="bold" font-style="italic">15</text>
<text x="231" y="226.876" font-size="6.6" text-anchor="middle" fill="#1c1f28" font-weight="bold" font-style="italic">15</text>
<text x="297.5" y="252.376" font-size="6.6" text-anchor="middle" fill="#1c1f28" font-weight="bold" font-style="italic">15</text>
<text x="392" y="213.67600000000002" font-size="6.6" text-anchor="middle" fill="#1c1f28" font-weight="bold" font-style="italic">15</text>
<text x="153.7" y="109" font-size="5.6" text-anchor="middle" fill="#50535e" font-weight="normal" font-style="normal">ch</text>
<text x="295.5" y="174" font-size="5.6" text-anchor="middle" fill="#50535e" font-weight="normal" font-style="normal">ch</text>
<text x="489" y="163.5" font-size="5.6" text-anchor="middle" fill="#50535e" font-weight="normal" font-style="normal">ch</text>
<text x="195" y="108.5" font-size="6" text-anchor="middle" fill="#9598a1" font-weight="normal" font-style="italic">induc</text>
<text x="613" y="39.5" font-size="5.6" text-anchor="start" fill="#3b3f4a" font-weight="normal" font-style="normal" textLength="20" lengthAdjust="spacingAndGlyphs">1.37500</text>
<text x="613" y="65.15" font-size="5.6" text-anchor="start" fill="#3b3f4a" font-weight="normal" font-style="normal" textLength="20" lengthAdjust="spacingAndGlyphs">1.37450</text>
<text x="613" y="90.8" font-size="5.6" text-anchor="start" fill="#3b3f4a" font-weight="normal" font-style="normal" textLength="20" lengthAdjust="spacingAndGlyphs">1.37400</text>
<text x="613" y="142.1" font-size="5.6" text-anchor="start" fill="#3b3f4a" font-weight="normal" font-style="normal" textLength="20" lengthAdjust="spacingAndGlyphs">1.37300</text>
<text x="613" y="167.75" font-size="5.6" text-anchor="start" fill="#3b3f4a" font-weight="normal" font-style="normal" textLength="20" lengthAdjust="spacingAndGlyphs">1.37250</text>
<text x="613" y="193.39999999999998" font-size="5.6" text-anchor="start" fill="#3b3f4a" font-weight="normal" font-style="normal" textLength="20" lengthAdjust="spacingAndGlyphs">1.37200</text>
<text x="613" y="219.04999999999998" font-size="5.6" text-anchor="start" fill="#3b3f4a" font-weight="normal" font-style="normal" textLength="20" lengthAdjust="spacingAndGlyphs">1.37150</text>
<text x="613" y="244.7" font-size="5.6" text-anchor="start" fill="#3b3f4a" font-weight="normal" font-style="normal" textLength="20" lengthAdjust="spacingAndGlyphs">1.37100</text>
<text x="613" y="270.35" font-size="5.6" text-anchor="start" fill="#3b3f4a" font-weight="normal" font-style="normal" textLength="20" lengthAdjust="spacingAndGlyphs">1.37050</text>
<text x="613" y="296.0" font-size="5.6" text-anchor="start" fill="#3b3f4a" font-weight="normal" font-style="normal" textLength="20" lengthAdjust="spacingAndGlyphs">1.37000</text>
<rect x="608.5" y="107" width="28.200000000000045" height="14.299999999999997" fill="#131722"/>
<text x="613" y="113.8" font-size="5.6" text-anchor="start" fill="#fff" font-weight="bold" font-style="normal" textLength="20.5" lengthAdjust="spacingAndGlyphs">1.37357</text>
<text x="613" y="119.6" font-size="5.4" text-anchor="start" fill="#fff" font-weight="normal" font-style="normal" textLength="13" lengthAdjust="spacingAndGlyphs">08:40</text>
<text x="47.5" y="321.1" font-size="5.5" text-anchor="middle" fill="#3b3f4a" font-weight="normal" font-style="normal">12:00</text>
<text x="102.7" y="321.1" font-size="5.5" text-anchor="middle" fill="#3b3f4a" font-weight="normal" font-style="normal">15:00</text>
<text x="157.9" y="321.1" font-size="5.5" text-anchor="middle" fill="#3b3f4a" font-weight="normal" font-style="normal">18:00</text>
<text x="213.10000000000002" y="321.1" font-size="5.5" text-anchor="middle" fill="#3b3f4a" font-weight="normal" font-style="normal">21:00</text>
<text x="268.3" y="321.1" font-size="5.5" text-anchor="middle" fill="#3b3f4a" font-weight="bold" font-style="normal">14</text>
<text x="323.5" y="321.1" font-size="5.5" text-anchor="middle" fill="#3b3f4a" font-weight="normal" font-style="normal">03:00</text>
<text x="378.70000000000005" y="321.1" font-size="5.5" text-anchor="middle" fill="#3b3f4a" font-weight="normal" font-style="normal">06:00</text>
<text x="433.90000000000003" y="321.1" font-size="5.5" text-anchor="middle" fill="#3b3f4a" font-weight="normal" font-style="normal">09:00</text>
<text x="489.1" y="321.1" font-size="5.5" text-anchor="middle" fill="#3b3f4a" font-weight="normal" font-style="normal">12:00</text>
<text x="544.3" y="321.1" font-size="5.5" text-anchor="middle" fill="#3b3f4a" font-weight="normal" font-style="normal">15:00</text>
<text x="599.5" y="321.1" font-size="5.5" text-anchor="middle" fill="#3b3f4a" font-weight="normal" font-style="normal">18:00</text>
<rect x="882" y="100" width="238" height="24.799999999999997" fill="#fcdcdb"/>
<rect x="1001" y="241" width="12.75" height="7.75" fill="#fde1e1"/>
<rect x="1031" y="250" width="8" height="5" fill="#fbe9e9"/>
<rect x="1026" y="263.75" width="13" height="9.25" fill="#e0e7fd"/>
<rect x="1061" y="209.5" width="8" height="5.5" fill="#e0e7fd"/>
<rect x="1069.5" y="203.75" width="11.5" height="5.0" fill="#e0e7fd"/>
<rect x="1064" y="195" width="8.5" height="5" fill="#eaeffd"/>
<rect x="1086" y="188.75" width="8.5" height="8.0" fill="#e0e7fd"/>
<rect x="1112" y="146" width="16.40000000000009" height="7" fill="#d5e0fb"/>
<line x1="645" y1="55" x2="714.6" y2="55" stroke="#2962ff" stroke-width="1.25" stroke-dasharray="1.25 3.0"/>
<line x1="716" y1="80" x2="743.5" y2="80" stroke="#2962ff" stroke-width="1.25" stroke-dasharray="1.25 3.0"/>
<line x1="746" y1="74.5" x2="841" y2="74.5" stroke="#2962ff" stroke-width="1.25" stroke-dasharray="1.25 3.0"/>
<line x1="852" y1="95.5" x2="1028" y2="95.5" stroke="#2962ff" stroke-width="1.25" stroke-dasharray="1.25 3.0"/>
<line x1="844" y1="111.75" x2="850" y2="111.75" stroke="#2962ff" stroke-width="1.25" stroke-dasharray="1.25 3.0"/>
<line x1="1030.75" y1="219.25" x2="1049" y2="219.25" stroke="#2962ff" stroke-width="1.25" stroke-dasharray="1.25 3.0"/>
<line x1="1051.75" y1="201.25" x2="1061" y2="201.25" stroke="#2962ff" stroke-width="1.25" stroke-dasharray="1.25 3.0"/>
<line x1="1068" y1="185" x2="1073" y2="185" stroke="#2962ff" stroke-width="1.25" stroke-dasharray="1.25 3.0"/>
<line x1="1076" y1="171.75" x2="1087" y2="171.75" stroke="#2962ff" stroke-width="1.25" stroke-dasharray="1.25 3.0"/>
<line x1="1090" y1="158" x2="1103" y2="158" stroke="#2962ff" stroke-width="1.25" stroke-dasharray="1.25 3.0"/>
<line x1="1111" y1="127.5" x2="1112.2" y2="127.5" stroke="#2962ff" stroke-width="1.25" stroke-dasharray="1.25 3.0"/>
<line x1="1115.6" y1="118" x2="1121.5" y2="118" stroke="#2962ff" stroke-width="1.25" stroke-dasharray="1.25 3.0"/>
<line x1="644" y1="165.5" x2="659" y2="165.5" stroke="#f23645" stroke-width="1.25" stroke-dasharray="1.25 3.0"/>
<line x1="674" y1="157.5" x2="761" y2="157.5" stroke="#f23645" stroke-width="1.25" stroke-dasharray="1.25 3.0"/>
<line x1="661.5" y1="124.5" x2="667" y2="124.5" stroke="#f23645" stroke-width="1.25" stroke-dasharray="1.25 3.0"/>
<line x1="772" y1="155.5" x2="786" y2="155.5" stroke="#f23645" stroke-width="1.25" stroke-dasharray="1.25 3.0"/>
<line x1="793" y1="208.75" x2="900" y2="208.75" stroke="#f23645" stroke-width="1.25" stroke-dasharray="1.25 3.0"/>
<line x1="907.5" y1="205.3" x2="918" y2="205.3" stroke="#f23645" stroke-width="1.25" stroke-dasharray="1.25 3.0"/>
<line x1="929" y1="225" x2="956" y2="225" stroke="#f23645" stroke-width="1.25" stroke-dasharray="1.25 3.0"/>
<line x1="962" y1="235" x2="963.3" y2="235" stroke="#f23645" stroke-width="1.25" stroke-dasharray="1.25 3.0"/>
<line x1="966.3" y1="237.75" x2="967.6" y2="237.75" stroke="#f23645" stroke-width="1.25" stroke-dasharray="1.25 3.0"/>
<line x1="971" y1="245" x2="976" y2="245" stroke="#f23645" stroke-width="1.25" stroke-dasharray="1.25 3.0"/>
<line x1="979.5" y1="267.5" x2="1005" y2="267.5" stroke="#f23645" stroke-width="1.25" stroke-dasharray="1.25 3.0"/>
<line x1="1005" y1="276.25" x2="1121" y2="276.25" stroke="#f23645" stroke-width="1.25" stroke-dasharray="1.25 3.0"/>
<line x1="762" y1="147.5" x2="763.2" y2="147.5" stroke="#f23645" stroke-width="1.25" stroke-dasharray="1.25 3.0"/>
<line x1="788.2" y1="179.5" x2="789.4" y2="179.5" stroke="#f23645" stroke-width="1.25" stroke-dasharray="1.25 3.0"/>
<line x1="902.5" y1="193" x2="903.7" y2="193" stroke="#f23645" stroke-width="1.25" stroke-dasharray="1.25 3.0"/>
<polyline points="984,239 984,225 1030.75,225" fill="none" stroke="#8a8d96" stroke-width="1.0"/>
<line x1="1030.75" y1="219" x2="1030.75" y2="232.5" stroke="#8a8d96" stroke-width="1.0"/>
<polyline points="979.5,239.5 979.5,267.5 1005,267.5" fill="none" stroke="#9a9da6" stroke-width="1.0"/>
<line x1="902.5" y1="132" x2="950" y2="183" stroke="#50535e" stroke-width="0.7"/>
<polyline points="946,182.3 950,183 949.6,179" fill="none" stroke="#50535e" stroke-width="0.7"/>
<text transform="translate(917.6,143.6) rotate(47.3)" font-size="6.5" text-anchor="middle" fill="#70737c">inducement</text>
<line x1="644.50" y1="80.6" x2="644.50" y2="103" stroke="#41444f" stroke-width="0.75"/>
<rect x="643.05" y="86.9" width="2.9" height="6.20" fill="#2457ee" stroke="#3a3d4a" stroke-width="0.45"/>
<line x1="648.75" y1="84" x2="648.75" y2="105.5" stroke="#41444f" stroke-width="0.75"/>
<rect x="647.30" y="86.75" width="2.9" height="15.75" fill="#e8382a" stroke="#3a3d4a" stroke-width="0.45"/>
<line x1="653.00" y1="84" x2="653.00" y2="106" stroke="#41444f" stroke-width="0.75"/>
<rect x="651.55" y="85.75" width="2.9" height="16.75" fill="#2457ee" stroke="#3a3d4a" stroke-width="0.45"/>
<line x1="657.25" y1="83" x2="657.25" y2="95" stroke="#41444f" stroke-width="0.75"/>
<rect x="655.80" y="85.75" width="2.9" height="6.25" fill="#e8382a" stroke="#3a3d4a" stroke-width="0.45"/>
<line x1="661.50" y1="90" x2="661.50" y2="124" stroke="#41444f" stroke-width="0.75"/>
<rect x="660.05" y="92" width="2.9" height="27.50" fill="#e8382a" stroke="#3a3d4a" stroke-width="0.45"/>
<line x1="665.75" y1="108" x2="665.75" y2="124" stroke="#41444f" stroke-width="0.75"/>
<rect x="664.30" y="116.5" width="2.9" height="3.00" fill="#ffffff" stroke="#3a3d4a" stroke-width="0.45"/>
<line x1="670.00" y1="116" x2="670.00" y2="150" stroke="#41444f" stroke-width="0.75"/>
<rect x="668.55" y="116" width="2.9" height="33.00" fill="#e8382a" stroke="#3a3d4a" stroke-width="0.45"/>
<line x1="674.25" y1="146" x2="674.25" y2="157" stroke="#41444f" stroke-width="0.75"/>
<rect x="672.80" y="148" width="2.9" height="4.50" fill="#e8382a" stroke="#3a3d4a" stroke-width="0.45"/>
<line x1="678.50" y1="122.5" x2="678.50" y2="154.5" stroke="#41444f" stroke-width="0.75"/>
<rect x="677.05" y="125.5" width="2.9" height="27.00" fill="#2457ee" stroke="#3a3d4a" stroke-width="0.45"/>
<line x1="682.75" y1="118" x2="682.75" y2="132.75" stroke="#41444f" stroke-width="0.75"/>
<rect x="681.30" y="124" width="2.9" height="1.50" fill="#2457ee" stroke="#3a3d4a" stroke-width="0.45"/>
<line x1="687.00" y1="112" x2="687.00" y2="132.5" stroke="#41444f" stroke-width="0.75"/>
<rect x="685.55" y="114" width="2.9" height="10.00" fill="#2457ee" stroke="#3a3d4a" stroke-width="0.45"/>
<line x1="691.25" y1="112.5" x2="691.25" y2="134" stroke="#41444f" stroke-width="0.75"/>
<rect x="689.80" y="114" width="2.9" height="17.00" fill="#e8382a" stroke="#3a3d4a" stroke-width="0.45"/>
<line x1="695.50" y1="109" x2="695.50" y2="136" stroke="#41444f" stroke-width="0.75"/>
<rect x="694.05" y="114" width="2.9" height="18.00" fill="#2457ee" stroke="#3a3d4a" stroke-width="0.45"/>
<line x1="699.75" y1="111" x2="699.75" y2="122" stroke="#41444f" stroke-width="0.75"/>
<rect x="698.30" y="114.2" width="2.9" height="0.60" fill="#3a3d4a"/>
<line x1="704.00" y1="102.5" x2="704.00" y2="119.75" stroke="#41444f" stroke-width="0.75"/>
<rect x="702.55" y="115.6" width="2.9" height="1.00" fill="#e8382a" stroke="#3a3d4a" stroke-width="0.45"/>
<line x1="708.25" y1="105" x2="708.25" y2="122" stroke="#41444f" stroke-width="0.75"/>
<rect x="706.80" y="112.5" width="2.9" height="3.50" fill="#2457ee" stroke="#3a3d4a" stroke-width="0.45"/>
<line x1="712.50" y1="95" x2="712.50" y2="114" stroke="#41444f" stroke-width="0.75"/>
<rect x="711.05" y="96" width="2.9" height="16.50" fill="#2457ee" stroke="#3a3d4a" stroke-width="0.45"/>
<line x1="716.75" y1="80" x2="716.75" y2="97.5" stroke="#41444f" stroke-width="0.75"/>
<rect x="715.30" y="85" width="2.9" height="11.00" fill="#2457ee" stroke="#3a3d4a" stroke-width="0.45"/>
<line x1="721.00" y1="85" x2="721.00" y2="99" stroke="#41444f" stroke-width="0.75"/>
<rect x="719.55" y="85" width="2.9" height="10.00" fill="#ffffff" stroke="#3a3d4a" stroke-width="0.45"/>
<line x1="725.25" y1="89" x2="725.25" y2="112.5" stroke="#41444f" stroke-width="0.75"/>
<rect x="723.80" y="95" width="2.9" height="13.50" fill="#e8382a" stroke="#3a3d4a" stroke-width="0.45"/>
<line x1="729.50" y1="107.5" x2="729.50" y2="124" stroke="#41444f" stroke-width="0.75"/>
<rect x="728.05" y="108" width="2.9" height="4.50" fill="#e8382a" stroke="#3a3d4a" stroke-width="0.45"/>
<line x1="733.75" y1="87.5" x2="733.75" y2="117" stroke="#41444f" stroke-width="0.75"/>
<rect x="732.30" y="95" width="2.9" height="17.50" fill="#2457ee" stroke="#3a3d4a" stroke-width="0.45"/>
<line x1="738.00" y1="80" x2="738.00" y2="96" stroke="#41444f" stroke-width="0.75"/>
<rect x="736.55" y="95.2" width="2.9" height="0.60" fill="#3a3d4a"/>
<line x1="742.25" y1="91" x2="742.25" y2="104.5" stroke="#41444f" stroke-width="0.75"/>
<rect x="740.80" y="94" width="2.9" height="1.50" fill="#2457ee" stroke="#3a3d4a" stroke-width="0.45"/>
<line x1="746.50" y1="74" x2="746.50" y2="103" stroke="#41444f" stroke-width="0.75"/>
<rect x="745.05" y="94" width="2.9" height="8.50" fill="#e8382a" stroke="#3a3d4a" stroke-width="0.45"/>
<line x1="750.75" y1="89.5" x2="750.75" y2="106" stroke="#41444f" stroke-width="0.75"/>
<rect x="749.30" y="93" width="2.9" height="9.50" fill="#2457ee" stroke="#3a3d4a" stroke-width="0.45"/>
<line x1="755.00" y1="89.5" x2="755.00" y2="113" stroke="#41444f" stroke-width="0.75"/>
<rect x="753.55" y="93" width="2.9" height="12.50" fill="#e8382a" stroke="#3a3d4a" stroke-width="0.45"/>
<line x1="759.25" y1="102" x2="759.25" y2="124" stroke="#41444f" stroke-width="0.75"/>
<rect x="757.80" y="105" width="2.9" height="17.50" fill="#e8382a" stroke="#3a3d4a" stroke-width="0.45"/>
<line x1="763.50" y1="117" x2="763.50" y2="148" stroke="#41444f" stroke-width="0.75"/>
<rect x="762.05" y="122" width="2.9" height="21.00" fill="#e8382a" stroke="#3a3d4a" stroke-width="0.45"/>
<line x1="767.75" y1="134" x2="767.75" y2="147.5" stroke="#41444f" stroke-width="0.75"/>
<rect x="766.30" y="142.2" width="2.9" height="0.60" fill="#3a3d4a"/>
<line x1="772.00" y1="134.5" x2="772.00" y2="155" stroke="#41444f" stroke-width="0.75"/>
<rect x="770.55" y="142.5" width="2.9" height="11.50" fill="#e8382a" stroke="#3a3d4a" stroke-width="0.45"/>
<line x1="776.25" y1="117.5" x2="776.25" y2="154.5" stroke="#41444f" stroke-width="0.75"/>
<rect x="774.80" y="126" width="2.9" height="28.00" fill="#2457ee" stroke="#3a3d4a" stroke-width="0.45"/>
<line x1="780.50" y1="120" x2="780.50" y2="144" stroke="#41444f" stroke-width="0.75"/>
<rect x="779.05" y="126" width="2.9" height="12.00" fill="#ffffff" stroke="#3a3d4a" stroke-width="0.45"/>
<line x1="784.75" y1="124" x2="784.75" y2="142.5" stroke="#41444f" stroke-width="0.75"/>
<rect x="783.30" y="132" width="2.9" height="6.00" fill="#ffffff" stroke="#3a3d4a" stroke-width="0.45"/>
<line x1="789.00" y1="126" x2="789.00" y2="179.5" stroke="#41444f" stroke-width="0.75"/>
<rect x="787.55" y="132" width="2.9" height="42.50" fill="#e8382a" stroke="#3a3d4a" stroke-width="0.45"/>
<line x1="793.25" y1="170.5" x2="793.25" y2="209" stroke="#41444f" stroke-width="0.75"/>
<rect x="791.80" y="174.5" width="2.9" height="30.50" fill="#e8382a" stroke="#3a3d4a" stroke-width="0.45"/>
<line x1="797.50" y1="180" x2="797.50" y2="209" stroke="#41444f" stroke-width="0.75"/>
<rect x="796.05" y="192" width="2.9" height="13.00" fill="#ffffff" stroke="#3a3d4a" stroke-width="0.45"/>
<line x1="801.75" y1="165" x2="801.75" y2="202.5" stroke="#41444f" stroke-width="0.75"/>
<rect x="800.30" y="173" width="2.9" height="19.50" fill="#2457ee" stroke="#3a3d4a" stroke-width="0.45"/>
<line x1="806.00" y1="147" x2="806.00" y2="174.5" stroke="#41444f" stroke-width="0.75"/>
<rect x="804.55" y="156" width="2.9" height="17.00" fill="#2457ee" stroke="#3a3d4a" stroke-width="0.45"/>
<line x1="810.25" y1="145" x2="810.25" y2="159" stroke="#41444f" stroke-width="0.75"/>
<rect x="808.80" y="151" width="2.9" height="5.00" fill="#2457ee" stroke="#3a3d4a" stroke-width="0.45"/>
<line x1="814.50" y1="149" x2="814.50" y2="174" stroke="#41444f" stroke-width="0.75"/>
<rect x="813.05" y="151" width="2.9" height="12.00" fill="#e8382a" stroke="#3a3d4a" stroke-width="0.45"/>
<line x1="818.75" y1="147.5" x2="818.75" y2="166" stroke="#41444f" stroke-width="0.75"/>
<rect x="817.30" y="154" width="2.9" height="9.00" fill="#2457ee" stroke="#3a3d4a" stroke-width="0.45"/>
<line x1="823.00" y1="142.5" x2="823.00" y2="162.5" stroke="#41444f" stroke-width="0.75"/>
<rect x="821.55" y="153.7" width="2.9" height="0.60" fill="#3a3d4a"/>
<line x1="827.25" y1="137.5" x2="827.25" y2="161" stroke="#41444f" stroke-width="0.75"/>
<rect x="825.80" y="154" width="2.9" height="6.00" fill="#e8382a" stroke="#3a3d4a" stroke-width="0.45"/>
<line x1="831.50" y1="148" x2="831.50" y2="166" stroke="#41444f" stroke-width="0.75"/>
<rect x="830.05" y="160" width="2.9" height="2.00" fill="#e8382a" stroke="#3a3d4a" stroke-width="0.45"/>
<line x1="835.75" y1="140.5" x2="835.75" y2="164.5" stroke="#41444f" stroke-width="0.75"/>
<rect x="834.30" y="142.5" width="2.9" height="19.50" fill="#2457ee" stroke="#3a3d4a" stroke-width="0.45"/>
<line x1="840.00" y1="122.5" x2="840.00" y2="143" stroke="#41444f" stroke-width="0.75"/>
<rect x="838.55" y="139" width="2.9" height="3.50" fill="#2457ee" stroke="#3a3d4a" stroke-width="0.45"/>
<line x1="844.25" y1="112" x2="844.25" y2="140" stroke="#41444f" stroke-width="0.75"/>
<rect x="842.80" y="117.5" width="2.9" height="21.50" fill="#2457ee" stroke="#3a3d4a" stroke-width="0.45"/>
<line x1="848.50" y1="111" x2="848.50" y2="125.5" stroke="#41444f" stroke-width="0.75"/>
<rect x="847.05" y="117.5" width="2.9" height="7.00" fill="#ffffff" stroke="#3a3d4a" stroke-width="0.45"/>
<line x1="852.75" y1="95" x2="852.75" y2="125.5" stroke="#41444f" stroke-width="0.75"/>
<rect x="851.30" y="105.5" width="2.9" height="19.00" fill="#2457ee" stroke="#3a3d4a" stroke-width="0.45"/>
<line x1="857.00" y1="95.5" x2="857.00" y2="120" stroke="#41444f" stroke-width="0.75"/>
<rect x="855.55" y="98" width="2.9" height="7.50" fill="#2457ee" stroke="#3a3d4a" stroke-width="0.45"/>
<line x1="861.25" y1="96" x2="861.25" y2="110" stroke="#41444f" stroke-width="0.75"/>
<rect x="859.80" y="97.5" width="2.9" height="8.50" fill="#ffffff" stroke="#3a3d4a" stroke-width="0.45"/>
<line x1="865.50" y1="100" x2="865.50" y2="121" stroke="#41444f" stroke-width="0.75"/>
<rect x="864.05" y="106" width="2.9" height="11.50" fill="#e8382a" stroke="#3a3d4a" stroke-width="0.45"/>
<line x1="869.75" y1="111" x2="869.75" y2="119" stroke="#41444f" stroke-width="0.75"/>
<rect x="868.30" y="113" width="2.9" height="4.50" fill="#ffffff" stroke="#3a3d4a" stroke-width="0.45"/>
<line x1="874.00" y1="95" x2="874.00" y2="121" stroke="#41444f" stroke-width="0.75"/>
<rect x="872.55" y="112.7" width="2.9" height="0.60" fill="#3a3d4a"/>
<line x1="878.25" y1="109" x2="878.25" y2="128" stroke="#41444f" stroke-width="0.75"/>
<rect x="876.80" y="113" width="2.9" height="6.50" fill="#e8382a" stroke="#3a3d4a" stroke-width="0.45"/>
<line x1="882.50" y1="100" x2="882.50" y2="124" stroke="#41444f" stroke-width="0.75"/>
<rect x="881.05" y="107" width="2.9" height="12.50" fill="#2457ee" stroke="#3a3d4a" stroke-width="0.45"/>
<line x1="886.75" y1="104" x2="886.75" y2="137.5" stroke="#41444f" stroke-width="0.75"/>
<rect x="885.30" y="107" width="2.9" height="29.00" fill="#e8382a" stroke="#3a3d4a" stroke-width="0.45"/>
<line x1="891.00" y1="134" x2="891.00" y2="146" stroke="#41444f" stroke-width="0.75"/>
<rect x="889.55" y="136" width="2.9" height="5.00" fill="#e8382a" stroke="#3a3d4a" stroke-width="0.45"/>
<line x1="895.25" y1="137.5" x2="895.25" y2="156" stroke="#41444f" stroke-width="0.75"/>
<rect x="893.80" y="141" width="2.9" height="14.00" fill="#e8382a" stroke="#3a3d4a" stroke-width="0.45"/>
<line x1="899.50" y1="134" x2="899.50" y2="156" stroke="#41444f" stroke-width="0.75"/>
<rect x="898.05" y="134" width="2.9" height="21.00" fill="#2457ee" stroke="#3a3d4a" stroke-width="0.45"/>
<line x1="903.75" y1="131" x2="903.75" y2="193" stroke="#41444f" stroke-width="0.75"/>
<rect x="902.30" y="134" width="2.9" height="51.00" fill="#e8382a" stroke="#3a3d4a" stroke-width="0.45"/>
<line x1="908.00" y1="182.5" x2="908.00" y2="205" stroke="#41444f" stroke-width="0.75"/>
<rect x="906.55" y="184.7" width="2.9" height="0.60" fill="#3a3d4a"/>
<line x1="912.25" y1="164" x2="912.25" y2="197.5" stroke="#41444f" stroke-width="0.75"/>
<rect x="910.80" y="168" width="2.9" height="17.50" fill="#2457ee" stroke="#3a3d4a" stroke-width="0.45"/>
<line x1="916.50" y1="156" x2="916.50" y2="179" stroke="#41444f" stroke-width="0.75"/>
<rect x="915.05" y="168" width="2.9" height="2.00" fill="#e8382a" stroke="#3a3d4a" stroke-width="0.45"/>
<line x1="920.75" y1="167.5" x2="920.75" y2="212.5" stroke="#41444f" stroke-width="0.75"/>
<rect x="919.30" y="170" width="2.9" height="41.00" fill="#e8382a" stroke="#3a3d4a" stroke-width="0.45"/>
<line x1="925.00" y1="203" x2="925.00" y2="224" stroke="#41444f" stroke-width="0.75"/>
<rect x="923.55" y="211" width="2.9" height="9.00" fill="#e8382a" stroke="#3a3d4a" stroke-width="0.45"/>
<line x1="929.25" y1="205" x2="929.25" y2="225" stroke="#41444f" stroke-width="0.75"/>
<rect x="927.80" y="206" width="2.9" height="13.50" fill="#2457ee" stroke="#3a3d4a" stroke-width="0.45"/>
<line x1="933.50" y1="199" x2="933.50" y2="211" stroke="#41444f" stroke-width="0.75"/>
<rect x="932.05" y="206" width="2.9" height="1.50" fill="#e8382a" stroke="#3a3d4a" stroke-width="0.45"/>
<line x1="937.75" y1="192.5" x2="937.75" y2="211" stroke="#41444f" stroke-width="0.75"/>
<rect x="936.30" y="204" width="2.9" height="4.00" fill="#2457ee" stroke="#3a3d4a" stroke-width="0.45"/>
<line x1="942.00" y1="185.5" x2="942.00" y2="212.5" stroke="#41444f" stroke-width="0.75"/>
<rect x="940.55" y="188" width="2.9" height="16.50" fill="#2457ee" stroke="#3a3d4a" stroke-width="0.45"/>
<line x1="946.25" y1="181" x2="946.25" y2="189" stroke="#41444f" stroke-width="0.75"/>
<rect x="944.80" y="185.5" width="2.9" height="2.50" fill="#2457ee" stroke="#3a3d4a" stroke-width="0.45"/>
<line x1="950.50" y1="180.5" x2="950.50" y2="209" stroke="#41444f" stroke-width="0.75"/>
<rect x="949.05" y="185.5" width="2.9" height="13.50" fill="#e8382a" stroke="#3a3d4a" stroke-width="0.45"/>
<line x1="954.75" y1="197" x2="954.75" y2="216" stroke="#41444f" stroke-width="0.75"/>
<rect x="953.30" y="199" width="2.9" height="13.50" fill="#e8382a" stroke="#3a3d4a" stroke-width="0.45"/>
<line x1="959.00" y1="209" x2="959.00" y2="227.5" stroke="#41444f" stroke-width="0.75"/>
<rect x="957.55" y="212.5" width="2.9" height="6.50" fill="#e8382a" stroke="#3a3d4a" stroke-width="0.45"/>
<line x1="963.25" y1="215" x2="963.25" y2="235" stroke="#41444f" stroke-width="0.75"/>
<rect x="961.80" y="218" width="2.9" height="13.00" fill="#e8382a" stroke="#3a3d4a" stroke-width="0.45"/>
<line x1="967.50" y1="224" x2="967.50" y2="238" stroke="#41444f" stroke-width="0.75"/>
<rect x="966.05" y="231" width="2.9" height="2.00" fill="#e8382a" stroke="#3a3d4a" stroke-width="0.45"/>
<line x1="971.75" y1="221" x2="971.75" y2="244" stroke="#41444f" stroke-width="0.75"/>
<rect x="970.30" y="229" width="2.9" height="4.00" fill="#2457ee" stroke="#3a3d4a" stroke-width="0.45"/>
<line x1="976.00" y1="221" x2="976.00" y2="241" stroke="#41444f" stroke-width="0.75"/>
<rect x="974.55" y="228" width="2.9" height="7.00" fill="#ffffff" stroke="#3a3d4a" stroke-width="0.45"/>
<line x1="980.25" y1="219.5" x2="980.25" y2="246" stroke="#41444f" stroke-width="0.75"/>
<rect x="978.80" y="235" width="2.9" height="4.50" fill="#e8382a" stroke="#3a3d4a" stroke-width="0.45"/>
<line x1="984.50" y1="225" x2="984.50" y2="249" stroke="#41444f" stroke-width="0.75"/>
<rect x="983.05" y="239" width="2.9" height="5.50" fill="#ffffff" stroke="#3a3d4a" stroke-width="0.45"/>
<line x1="988.75" y1="230" x2="988.75" y2="246" stroke="#41444f" stroke-width="0.75"/>
<rect x="987.30" y="238" width="2.9" height="6.50" fill="#ffffff" stroke="#3a3d4a" stroke-width="0.45"/>
<line x1="993.00" y1="236" x2="993.00" y2="262.5" stroke="#41444f" stroke-width="0.75"/>
<rect x="991.55" y="238" width="2.9" height="19.50" fill="#e8382a" stroke="#3a3d4a" stroke-width="0.45"/>
<line x1="997.25" y1="242.5" x2="997.25" y2="260.5" stroke="#41444f" stroke-width="0.75"/>
<rect x="995.80" y="249" width="2.9" height="8.50" fill="#ffffff" stroke="#3a3d4a" stroke-width="0.45"/>
<line x1="1001.50" y1="242.5" x2="1001.50" y2="262.5" stroke="#41444f" stroke-width="0.75"/>
<rect x="1000.05" y="249" width="2.9" height="5.00" fill="#e8382a" stroke="#3a3d4a" stroke-width="0.45"/>
<line x1="1005.75" y1="251" x2="1005.75" y2="276" stroke="#41444f" stroke-width="0.75"/>
<rect x="1004.30" y="254" width="2.9" height="11.00" fill="#e8382a" stroke="#3a3d4a" stroke-width="0.45"/>
<line x1="1010.00" y1="259" x2="1010.00" y2="274" stroke="#41444f" stroke-width="0.75"/>
<rect x="1008.55" y="260.5" width="2.9" height="4.50" fill="#ffffff" stroke="#3a3d4a" stroke-width="0.45"/>
<line x1="1014.25" y1="245" x2="1014.25" y2="269.5" stroke="#41444f" stroke-width="0.75"/>
<rect x="1012.80" y="246" width="2.9" height="14.50" fill="#2457ee" stroke="#3a3d4a" stroke-width="0.45"/>
<line x1="1018.50" y1="246" x2="1018.50" y2="262" stroke="#41444f" stroke-width="0.75"/>
<rect x="1017.05" y="246" width="2.9" height="15.00" fill="#ffffff" stroke="#3a3d4a" stroke-width="0.45"/>
<line x1="1022.75" y1="250" x2="1022.75" y2="267.5" stroke="#41444f" stroke-width="0.75"/>
<rect x="1021.30" y="257.5" width="2.9" height="3.50" fill="#2457ee" stroke="#3a3d4a" stroke-width="0.45"/>
<line x1="1027.00" y1="245" x2="1027.00" y2="272.5" stroke="#41444f" stroke-width="0.75"/>
<rect x="1025.55" y="249" width="2.9" height="8.50" fill="#2457ee" stroke="#3a3d4a" stroke-width="0.45"/>
<line x1="1031.25" y1="219" x2="1031.25" y2="254.5" stroke="#41444f" stroke-width="0.75"/>
<rect x="1029.80" y="232.5" width="2.9" height="16.50" fill="#2457ee" stroke="#3a3d4a" stroke-width="0.45"/>
<line x1="1035.50" y1="227.5" x2="1035.50" y2="257.5" stroke="#41444f" stroke-width="0.75"/>
<rect x="1034.05" y="232.5" width="2.9" height="23.00" fill="#e8382a" stroke="#3a3d4a" stroke-width="0.45"/>
<line x1="1039.75" y1="254" x2="1039.75" y2="272.5" stroke="#41444f" stroke-width="0.75"/>
<rect x="1038.30" y="255.5" width="2.9" height="9.00" fill="#e8382a" stroke="#3a3d4a" stroke-width="0.45"/>
<line x1="1044.00" y1="247" x2="1044.00" y2="267.5" stroke="#41444f" stroke-width="0.75"/>
<rect x="1042.55" y="249" width="2.9" height="15.50" fill="#2457ee" stroke="#3a3d4a" stroke-width="0.45"/>
<line x1="1048.25" y1="224" x2="1048.25" y2="254.5" stroke="#41444f" stroke-width="0.75"/>
<rect x="1046.80" y="225.5" width="2.9" height="23.50" fill="#2457ee" stroke="#3a3d4a" stroke-width="0.45"/>
<line x1="1052.50" y1="201" x2="1052.50" y2="226" stroke="#41444f" stroke-width="0.75"/>
<rect x="1051.05" y="209.5" width="2.9" height="16.00" fill="#2457ee" stroke="#3a3d4a" stroke-width="0.45"/>
<line x1="1056.75" y1="207" x2="1056.75" y2="216.5" stroke="#41444f" stroke-width="0.75"/>
<rect x="1055.30" y="209.5" width="2.9" height="5.50" fill="#ffffff" stroke="#3a3d4a" stroke-width="0.45"/>
<line x1="1061.00" y1="199" x2="1061.00" y2="216.5" stroke="#41444f" stroke-width="0.75"/>
<rect x="1059.55" y="200.5" width="2.9" height="14.50" fill="#2457ee" stroke="#3a3d4a" stroke-width="0.45"/>
<line x1="1065.25" y1="195" x2="1065.25" y2="208" stroke="#41444f" stroke-width="0.75"/>
<rect x="1063.80" y="200.5" width="2.9" height="4.00" fill="#e8382a" stroke="#3a3d4a" stroke-width="0.45"/>
<line x1="1069.50" y1="185" x2="1069.50" y2="209" stroke="#41444f" stroke-width="0.75"/>
<rect x="1068.05" y="187.5" width="2.9" height="17.00" fill="#2457ee" stroke="#3a3d4a" stroke-width="0.45"/>
<line x1="1073.75" y1="179" x2="1073.75" y2="197.5" stroke="#41444f" stroke-width="0.75"/>
<rect x="1072.30" y="186" width="2.9" height="1.50" fill="#2457ee" stroke="#3a3d4a" stroke-width="0.45"/>
<line x1="1078.00" y1="174" x2="1078.00" y2="187.5" stroke="#41444f" stroke-width="0.75"/>
<rect x="1076.55" y="177" width="2.9" height="9.00" fill="#2457ee" stroke="#3a3d4a" stroke-width="0.45"/>
<line x1="1082.25" y1="171" x2="1082.25" y2="203" stroke="#41444f" stroke-width="0.75"/>
<rect x="1080.80" y="177" width="2.9" height="13.50" fill="#e8382a" stroke="#3a3d4a" stroke-width="0.45"/>
<line x1="1086.50" y1="169.5" x2="1086.50" y2="196" stroke="#41444f" stroke-width="0.75"/>
<rect x="1085.05" y="177" width="2.9" height="13.50" fill="#2457ee" stroke="#3a3d4a" stroke-width="0.45"/>
<line x1="1090.75" y1="159" x2="1090.75" y2="179" stroke="#41444f" stroke-width="0.75"/>
<rect x="1089.30" y="170.5" width="2.9" height="7.00" fill="#2457ee" stroke="#3a3d4a" stroke-width="0.45"/>
<line x1="1095.00" y1="167.5" x2="1095.00" y2="187.5" stroke="#41444f" stroke-width="0.75"/>
<rect x="1093.55" y="170.5" width="2.9" height="6.50" fill="#e8382a" stroke="#3a3d4a" stroke-width="0.45"/>
<line x1="1099.25" y1="159" x2="1099.25" y2="177.5" stroke="#41444f" stroke-width="0.75"/>
<rect x="1097.80" y="161" width="2.9" height="16.00" fill="#2457ee" stroke="#3a3d4a" stroke-width="0.45"/>
<line x1="1103.50" y1="157.5" x2="1103.50" y2="175" stroke="#41444f" stroke-width="0.75"/>
<rect x="1102.05" y="161" width="2.9" height="3.40" fill="#e8382a" stroke="#3a3d4a" stroke-width="0.45"/>
<line x1="1107.75" y1="148" x2="1107.75" y2="168" stroke="#41444f" stroke-width="0.75"/>
<rect x="1106.30" y="148.75" width="2.9" height="15.65" fill="#2457ee" stroke="#3a3d4a" stroke-width="0.45"/>
<line x1="1112.00" y1="127.5" x2="1112.00" y2="152.5" stroke="#41444f" stroke-width="0.75"/>
<rect x="1110.55" y="131.5" width="2.9" height="17.25" fill="#2457ee" stroke="#3a3d4a" stroke-width="0.45"/>
<line x1="1116.25" y1="117.75" x2="1116.25" y2="132" stroke="#41444f" stroke-width="0.75"/>
<rect x="1114.80" y="130.5" width="2.9" height="1.00" fill="#2457ee" stroke="#3a3d4a" stroke-width="0.45"/>
<line x1="1120.50" y1="120.5" x2="1120.50" y2="130" stroke="#41444f" stroke-width="0.75"/>
<rect x="1119.05" y="122" width="2.9" height="8.00" fill="#2457ee" stroke="#3a3d4a" stroke-width="0.45"/>
<text x="1007" y="227.664" font-size="7.4" text-anchor="middle" fill="#1c1f28" font-weight="bold" font-style="italic">4h</text>
<text x="992.5" y="270.164" font-size="7.4" text-anchor="middle" fill="#1c1f28" font-weight="bold" font-style="italic">4h</text>
<text x="746.3" y="66.8" font-size="6.6" text-anchor="middle" fill="#3a62e8" font-weight="normal" font-style="normal" textLength="6.6" lengthAdjust="spacingAndGlyphs">LH</text>
<text x="856.6" y="87.8" font-size="6.6" text-anchor="middle" fill="#3a62e8" font-weight="normal" font-style="normal" textLength="6.6" lengthAdjust="spacingAndGlyphs">LH</text>
<text x="1115" y="111.2" font-size="6.6" text-anchor="middle" fill="#5b5fd6" font-weight="normal" font-style="normal" textLength="6.6" lengthAdjust="spacingAndGlyphs">LH</text>
<text x="674" y="169" font-size="6.4" text-anchor="middle" fill="#f23645" font-weight="normal" font-style="normal" textLength="6.6" lengthAdjust="spacingAndGlyphs">HL</text>
<text x="792.5" y="220.3" font-size="6.4" text-anchor="middle" fill="#f23645" font-weight="normal" font-style="normal" textLength="5.4" lengthAdjust="spacingAndGlyphs">LL</text>
<text x="1005" y="287.8" font-size="6.4" text-anchor="middle" fill="#f23645" font-weight="normal" font-style="normal" textLength="5.4" lengthAdjust="spacingAndGlyphs">LL</text>
<text x="1247.5" y="25.75" font-size="5.6" text-anchor="start" fill="#3b3f4a" font-weight="normal" font-style="normal" textLength="20" lengthAdjust="spacingAndGlyphs">1.41000</text>
<text x="1247.5" y="52.620000000000005" font-size="5.6" text-anchor="start" fill="#3b3f4a" font-weight="normal" font-style="normal" textLength="20" lengthAdjust="spacingAndGlyphs">1.40000</text>
<text x="1247.5" y="79.49000000000001" font-size="5.6" text-anchor="start" fill="#3b3f4a" font-weight="normal" font-style="normal" textLength="20" lengthAdjust="spacingAndGlyphs">1.39000</text>
<text x="1247.5" y="106.36" font-size="5.6" text-anchor="start" fill="#3b3f4a" font-weight="normal" font-style="normal" textLength="20" lengthAdjust="spacingAndGlyphs">1.38000</text>
<text x="1247.5" y="160.1" font-size="5.6" text-anchor="start" fill="#3b3f4a" font-weight="normal" font-style="normal" textLength="20" lengthAdjust="spacingAndGlyphs">1.36000</text>
<text x="1247.5" y="186.97" font-size="5.6" text-anchor="start" fill="#3b3f4a" font-weight="normal" font-style="normal" textLength="20" lengthAdjust="spacingAndGlyphs">1.35000</text>
<text x="1247.5" y="213.84" font-size="5.6" text-anchor="start" fill="#3b3f4a" font-weight="normal" font-style="normal" textLength="20" lengthAdjust="spacingAndGlyphs">1.34000</text>
<text x="1247.5" y="240.71" font-size="5.6" text-anchor="start" fill="#3b3f4a" font-weight="normal" font-style="normal" textLength="20" lengthAdjust="spacingAndGlyphs">1.33000</text>
<text x="1247.5" y="267.58000000000004" font-size="5.6" text-anchor="start" fill="#3b3f4a" font-weight="normal" font-style="normal" textLength="20" lengthAdjust="spacingAndGlyphs">1.32000</text>
<text x="1247.5" y="294.45" font-size="5.6" text-anchor="start" fill="#3b3f4a" font-weight="normal" font-style="normal" textLength="20" lengthAdjust="spacingAndGlyphs">1.31000</text>
<rect x="1242.5" y="118" width="30.5" height="14.5" fill="#131722"/>
<text x="1247" y="124.8" font-size="5.6" text-anchor="start" fill="#fff" font-weight="bold" font-style="normal" textLength="20.5" lengthAdjust="spacingAndGlyphs">1.37357</text>
<text x="1247" y="130.6" font-size="5.4" text-anchor="start" fill="#fff" font-weight="normal" font-style="normal" textLength="21" lengthAdjust="spacingAndGlyphs">16:08:40</text>
<text x="657.25" y="321.1" font-size="5.5" text-anchor="middle" fill="#3b3f4a" font-weight="normal" font-style="normal">16</text>
<text x="708.25" y="321.1" font-size="5.5" text-anchor="middle" fill="#3b3f4a" font-weight="normal" font-style="normal">Tháng 9</text>
<text x="750.75" y="321.1" font-size="5.5" text-anchor="middle" fill="#3b3f4a" font-weight="normal" font-style="normal">15</text>
<text x="801.75" y="321.1" font-size="5.5" text-anchor="middle" fill="#3b3f4a" font-weight="normal" font-style="normal">Tháng 10</text>
<text x="848.5" y="321.1" font-size="5.5" text-anchor="middle" fill="#3b3f4a" font-weight="normal" font-style="normal">18</text>
<text x="891" y="321.1" font-size="5.5" text-anchor="middle" fill="#3b3f4a" font-weight="normal" font-style="normal">Tháng 11</text>
<text x="933.5" y="321.1" font-size="5.5" text-anchor="middle" fill="#3b3f4a" font-weight="normal" font-style="normal">15</text>
<text x="984" y="321.1" font-size="5.5" text-anchor="middle" fill="#3b3f4a" font-weight="normal" font-style="normal">Tháng Mười hai</text>
<text x="1039" y="321.1" font-size="5.5" text-anchor="middle" fill="#3b3f4a" font-weight="normal" font-style="normal">20</text>
<text x="1081.5" y="321.1" font-size="5.5" text-anchor="middle" fill="#3b3f4a" font-weight="bold" font-style="normal">2022</text>
<text x="1132" y="321.1" font-size="5.5" text-anchor="middle" fill="#3b3f4a" font-weight="normal" font-style="normal">17</text>
<text x="1196" y="321.1" font-size="5.5" text-anchor="middle" fill="#3b3f4a" font-weight="normal" font-style="normal">Tháng Hai</text>
<line x1="5.6" y1="590" x2="5.6" y2="605" stroke="#c9ccd3" stroke-width="1"/>
<rect x="58.24" y="559.5" width="3.90" height="3.50" fill="#fff08c"/>
<rect x="76.30" y="548" width="3.90" height="6.50" fill="#fff08c"/>
<rect x="79.92" y="541" width="3.90" height="5.00" fill="#fff08c"/>
<rect x="87.14" y="541" width="3.90" height="3.50" fill="#fff08c"/>
<rect x="105.20" y="547.5" width="3.90" height="8.50" fill="#fff08c"/>
<rect x="119.65" y="540" width="3.90" height="15.50" fill="#fff08c"/>
<rect x="126.87" y="541" width="3.90" height="4.00" fill="#fff08c"/>
<rect x="152.16" y="536" width="3.90" height="10.00" fill="#fff08c"/>
<rect x="155.77" y="526" width="3.90" height="9.00" fill="#fff08c"/>
<rect x="159.38" y="507.5" width="3.90" height="16.50" fill="#fff08c"/>
<rect x="213.56" y="490" width="3.90" height="7.50" fill="#fff08c"/>
<rect x="231.62" y="481" width="3.90" height="3.00" fill="#fff08c"/>
<rect x="235.23" y="466" width="3.90" height="10.00" fill="#fff08c"/>
<rect x="246.07" y="451" width="3.90" height="9.00" fill="#fff08c"/>
<rect x="285.80" y="460" width="3.90" height="6.00" fill="#fff08c"/>
<rect x="303.86" y="477.5" width="3.90" height="8.50" fill="#fff08c"/>
<rect x="314.70" y="466" width="3.90" height="19.00" fill="#fff08c"/>
<rect x="325.53" y="465.0" width="3.90" height="8.00" fill="#fff08c"/>
<rect x="336.37" y="464.5" width="3.90" height="8.50" fill="#fff08c"/>
<rect x="361.65" y="466.0" width="3.90" height="8.50" fill="#fff08c"/>
<rect x="408.61" y="471.5" width="3.90" height="3.00" fill="#fff08c"/>
<rect x="426.67" y="466.5" width="3.90" height="8.50" fill="#fff08c"/>
<rect x="451.95" y="478.5" width="3.90" height="7.00" fill="#fff08c"/>
<rect x="459.18" y="466.5" width="3.90" height="8.50" fill="#fff08c"/>
<rect x="491.68" y="454.5" width="3.90" height="10.00" fill="#fff08c"/>
<rect x="506.13" y="454.5" width="3.90" height="11.50" fill="#fff08c"/>
<rect x="531.42" y="466.5" width="3.90" height="5.00" fill="#fff08c"/>
<rect x="535.03" y="460.0" width="3.90" height="5.50" fill="#fff08c"/>
<rect x="560.31" y="458.5" width="3.90" height="6.00" fill="#fff08c"/>
<rect x="610.88" y="454.5" width="3.90" height="11.00" fill="#fff08c"/>
<rect x="621.72" y="446.5" width="3.90" height="8.00" fill="#fff08c"/>
<rect x="632.55" y="455" width="3.90" height="10.00" fill="#fff08c"/>
<rect x="650.61" y="454" width="3.90" height="8.50" fill="#fff08c"/>
<rect x="657.84" y="454" width="3.90" height="10.00" fill="#fff08c"/>
<rect x="679.51" y="443" width="3.90" height="6.00" fill="#fff08c"/>
<rect x="733.69" y="441" width="3.90" height="9.00" fill="#fff08c"/>
<rect x="744.52" y="425" width="3.90" height="6.00" fill="#fff08c"/>
<rect x="751.75" y="406" width="3.90" height="11.50" fill="#fff08c"/>
<rect x="758.97" y="376" width="3.90" height="26.50" fill="#fff08c"/>
<rect x="780.64" y="374" width="3.90" height="7.00" fill="#fff08c"/>
<rect x="791.48" y="380.5" width="3.90" height="2.50" fill="#fff08c"/>
<line x1="7.38" y1="582" x2="7.38" y2="592.5" stroke="#41444f" stroke-width="0.75"/>
<rect x="6.28" y="589.8" width="2.2" height="0.60" fill="#3a3d4a"/>
<line x1="10.99" y1="588" x2="10.99" y2="593" stroke="#41444f" stroke-width="0.75"/>
<rect x="9.89" y="590.5" width="2.2" height="0.60" fill="#3a3d4a"/>
<line x1="14.60" y1="567" x2="14.60" y2="591" stroke="#41444f" stroke-width="0.75"/>
<rect x="13.50" y="580" width="2.2" height="10.75" fill="#2457ee" stroke="#3a3d4a" stroke-width="0.45"/>
<line x1="18.21" y1="566" x2="18.21" y2="581" stroke="#41444f" stroke-width="0.75"/>
<rect x="17.11" y="574" width="2.2" height="6.00" fill="#2457ee" stroke="#3a3d4a" stroke-width="0.45"/>
<line x1="21.82" y1="560" x2="21.82" y2="575" stroke="#41444f" stroke-width="0.75"/>
<rect x="20.72" y="567" width="2.2" height="7.50" fill="#2457ee" stroke="#3a3d4a" stroke-width="0.45"/>
<line x1="25.44" y1="549.5" x2="25.44" y2="567.5" stroke="#41444f" stroke-width="0.75"/>
<rect x="24.34" y="558" width="2.2" height="9.00" fill="#2457ee" stroke="#3a3d4a" stroke-width="0.45"/>
<line x1="29.05" y1="554.5" x2="29.05" y2="577" stroke="#41444f" stroke-width="0.75"/>
<rect x="27.95" y="558" width="2.2" height="17.50" fill="#e8382a" stroke="#3a3d4a" stroke-width="0.45"/>
<line x1="32.66" y1="569" x2="32.66" y2="589" stroke="#41444f" stroke-width="0.75"/>
<rect x="31.56" y="575" width="2.2" height="13.00" fill="#e8382a" stroke="#3a3d4a" stroke-width="0.45"/>
<line x1="36.27" y1="581" x2="36.27" y2="588" stroke="#41444f" stroke-width="0.75"/>
<rect x="35.17" y="581" width="2.2" height="7.00" fill="#ffffff" stroke="#3a3d4a" stroke-width="0.45"/>
<line x1="39.88" y1="568" x2="39.88" y2="581" stroke="#41444f" stroke-width="0.75"/>
<rect x="38.78" y="569" width="2.2" height="12.00" fill="#2457ee" stroke="#3a3d4a" stroke-width="0.45"/>
<line x1="43.50" y1="555" x2="43.50" y2="578" stroke="#41444f" stroke-width="0.75"/>
<rect x="42.40" y="569" width="2.2" height="8.50" fill="#e8382a" stroke="#3a3d4a" stroke-width="0.45"/>
<line x1="47.11" y1="569" x2="47.11" y2="578" stroke="#41444f" stroke-width="0.75"/>
<rect x="46.01" y="569.5" width="2.2" height="8.00" fill="#2457ee" stroke="#3a3d4a" stroke-width="0.45"/>
<line x1="50.72" y1="564" x2="50.72" y2="570.5" stroke="#41444f" stroke-width="0.75"/>
<rect x="49.62" y="568.7" width="2.2" height="0.60" fill="#3a3d4a"/>
<line x1="54.33" y1="565" x2="54.33" y2="571" stroke="#41444f" stroke-width="0.75"/>
<rect x="53.23" y="568.5" width="2.2" height="0.60" fill="#3a3d4a"/>
<line x1="57.94" y1="556" x2="57.94" y2="569.5" stroke="#41444f" stroke-width="0.75"/>
<rect x="56.84" y="557.5" width="2.2" height="11.25" fill="#2457ee" stroke="#3a3d4a" stroke-width="0.45"/>
<line x1="61.56" y1="556" x2="61.56" y2="558.5" stroke="#41444f" stroke-width="0.75"/>
<rect x="60.46" y="556.8" width="2.2" height="1.20" fill="#2457ee" stroke="#3a3d4a" stroke-width="0.45"/>
<line x1="65.17" y1="555.5" x2="65.17" y2="559" stroke="#41444f" stroke-width="0.75"/>
<rect x="64.07" y="556.7" width="2.2" height="0.60" fill="#3a3d4a"/>
<line x1="68.78" y1="556.5" x2="68.78" y2="562.5" stroke="#41444f" stroke-width="0.75"/>
<rect x="67.68" y="556.8" width="2.2" height="1.20" fill="#e8382a" stroke="#3a3d4a" stroke-width="0.45"/>
<line x1="72.39" y1="554.5" x2="72.39" y2="565.5" stroke="#41444f" stroke-width="0.75"/>
<rect x="71.29" y="555.5" width="2.2" height="3.25" fill="#2457ee" stroke="#3a3d4a" stroke-width="0.45"/>
<line x1="76.00" y1="546" x2="76.00" y2="558" stroke="#41444f" stroke-width="0.75"/>
<rect x="74.90" y="547" width="2.2" height="8.50" fill="#2457ee" stroke="#3a3d4a" stroke-width="0.45"/>
<line x1="79.62" y1="533" x2="79.62" y2="547.5" stroke="#41444f" stroke-width="0.75"/>
<rect x="78.52" y="533" width="2.2" height="14.50" fill="#2457ee" stroke="#3a3d4a" stroke-width="0.45"/>
<line x1="83.23" y1="533" x2="83.23" y2="542.5" stroke="#41444f" stroke-width="0.75"/>
<rect x="82.13" y="533" width="2.2" height="3.00" fill="#ffffff" stroke="#3a3d4a" stroke-width="0.45"/>
<line x1="86.84" y1="535" x2="86.84" y2="547.5" stroke="#41444f" stroke-width="0.75"/>
<rect x="85.74" y="535" width="2.2" height="12.50" fill="#e8382a" stroke="#3a3d4a" stroke-width="0.45"/>
<line x1="90.45" y1="544" x2="90.45" y2="547.5" stroke="#41444f" stroke-width="0.75"/>
<rect x="89.35" y="544.5" width="2.2" height="3.00" fill="#ffffff" stroke="#3a3d4a" stroke-width="0.45"/>
<line x1="94.06" y1="545" x2="94.06" y2="549" stroke="#41444f" stroke-width="0.75"/>
<rect x="92.96" y="545.2" width="2.2" height="0.60" fill="#3a3d4a"/>
<line x1="97.68" y1="545" x2="97.68" y2="550.5" stroke="#41444f" stroke-width="0.75"/>
<rect x="96.58" y="545.2" width="2.2" height="0.60" fill="#3a3d4a"/>
<line x1="101.29" y1="543.5" x2="101.29" y2="547" stroke="#41444f" stroke-width="0.75"/>
<rect x="100.19" y="545.2" width="2.2" height="0.60" fill="#3a3d4a"/>
<line x1="104.90" y1="545" x2="104.90" y2="557.5" stroke="#41444f" stroke-width="0.75"/>
<rect x="103.80" y="545.5" width="2.2" height="12.00" fill="#e8382a" stroke="#3a3d4a" stroke-width="0.45"/>
<line x1="108.51" y1="556.5" x2="108.51" y2="559" stroke="#41444f" stroke-width="0.75"/>
<rect x="107.41" y="557" width="2.2" height="2.00" fill="#ffffff" stroke="#3a3d4a" stroke-width="0.45"/>
<line x1="112.12" y1="558" x2="112.12" y2="568" stroke="#41444f" stroke-width="0.75"/>
<rect x="111.02" y="559" width="2.2" height="9.00" fill="#e8382a" stroke="#3a3d4a" stroke-width="0.45"/>
<line x1="115.74" y1="555" x2="115.74" y2="568" stroke="#41444f" stroke-width="0.75"/>
<rect x="114.64" y="557" width="2.2" height="11.00" fill="#2457ee" stroke="#3a3d4a" stroke-width="0.45"/>
<line x1="119.35" y1="532.5" x2="119.35" y2="557" stroke="#41444f" stroke-width="0.75"/>
<rect x="118.25" y="534.5" width="2.2" height="22.50" fill="#2457ee" stroke="#3a3d4a" stroke-width="0.45"/>
<line x1="122.96" y1="531" x2="122.96" y2="541.5" stroke="#41444f" stroke-width="0.75"/>
<line x1="122.96" y1="531" x2="122.96" y2="541.5" stroke="#b5b8c0" stroke-width="0.9"/>
<line x1="126.57" y1="534.5" x2="126.57" y2="546" stroke="#41444f" stroke-width="0.75"/>
<rect x="125.47" y="535" width="2.2" height="11.00" fill="#e8382a" stroke="#3a3d4a" stroke-width="0.45"/>
<line x1="130.18" y1="546" x2="130.18" y2="551" stroke="#41444f" stroke-width="0.75"/>
<rect x="129.08" y="546" width="2.2" height="2.00" fill="#e8382a" stroke="#3a3d4a" stroke-width="0.45"/>
<line x1="133.80" y1="547" x2="133.80" y2="568" stroke="#41444f" stroke-width="0.75"/>
<rect x="132.70" y="547" width="2.2" height="9.00" fill="#e8382a" stroke="#3a3d4a" stroke-width="0.45"/>
<line x1="137.41" y1="535.5" x2="137.41" y2="556" stroke="#41444f" stroke-width="0.75"/>
<rect x="136.31" y="536" width="2.2" height="20.00" fill="#2457ee" stroke="#3a3d4a" stroke-width="0.45"/>
<line x1="141.02" y1="533" x2="141.02" y2="559" stroke="#41444f" stroke-width="0.75"/>
<rect x="139.92" y="536" width="2.2" height="15.00" fill="#e8382a" stroke="#3a3d4a" stroke-width="0.45"/>
<line x1="144.63" y1="547.5" x2="144.63" y2="551" stroke="#41444f" stroke-width="0.75"/>
<rect x="143.53" y="547.5" width="2.2" height="3.50" fill="#ffffff" stroke="#3a3d4a" stroke-width="0.45"/>
<line x1="148.24" y1="546" x2="148.24" y2="548" stroke="#41444f" stroke-width="0.75"/>
<rect x="147.14" y="546.6" width="2.2" height="0.80" fill="#2457ee" stroke="#3a3d4a" stroke-width="0.45"/>
<line x1="151.86" y1="535.5" x2="151.86" y2="546.5" stroke="#41444f" stroke-width="0.75"/>
<rect x="150.76" y="536" width="2.2" height="10.00" fill="#2457ee" stroke="#3a3d4a" stroke-width="0.45"/>
<line x1="155.47" y1="525" x2="155.47" y2="536" stroke="#41444f" stroke-width="0.75"/>
<rect x="154.37" y="525.5" width="2.2" height="10.50" fill="#2457ee" stroke="#3a3d4a" stroke-width="0.45"/>
<line x1="159.08" y1="500" x2="159.08" y2="525.5" stroke="#41444f" stroke-width="0.75"/>
<rect x="157.98" y="504" width="2.2" height="21.50" fill="#2457ee" stroke="#3a3d4a" stroke-width="0.45"/>
<line x1="162.69" y1="497.5" x2="162.69" y2="504.5" stroke="#41444f" stroke-width="0.75"/>
<rect x="161.59" y="498" width="2.2" height="6.50" fill="#2457ee" stroke="#3a3d4a" stroke-width="0.45"/>
<line x1="166.30" y1="498" x2="166.30" y2="515" stroke="#41444f" stroke-width="0.75"/>
<rect x="165.20" y="499" width="2.2" height="13.50" fill="#e8382a" stroke="#3a3d4a" stroke-width="0.45"/>
<line x1="169.92" y1="499.5" x2="169.92" y2="512" stroke="#41444f" stroke-width="0.75"/>
<rect x="168.82" y="500" width="2.2" height="12.00" fill="#ffffff" stroke="#3a3d4a" stroke-width="0.45"/>
<line x1="173.53" y1="496.5" x2="173.53" y2="507.5" stroke="#41444f" stroke-width="0.75"/>
<rect x="172.43" y="497" width="2.2" height="3.50" fill="#2457ee" stroke="#3a3d4a" stroke-width="0.45"/>
<line x1="177.14" y1="496.5" x2="177.14" y2="504" stroke="#41444f" stroke-width="0.75"/>
<rect x="176.04" y="497" width="2.2" height="2.00" fill="#ffffff" stroke="#3a3d4a" stroke-width="0.45"/>
<line x1="180.75" y1="497.5" x2="180.75" y2="507.5" stroke="#41444f" stroke-width="0.75"/>
<rect x="179.65" y="498" width="2.2" height="2.00" fill="#e8382a" stroke="#3a3d4a" stroke-width="0.45"/>
<line x1="184.36" y1="499.5" x2="184.36" y2="514" stroke="#41444f" stroke-width="0.75"/>
<rect x="183.26" y="500" width="2.2" height="11.00" fill="#e8382a" stroke="#3a3d4a" stroke-width="0.45"/>
<line x1="187.98" y1="509" x2="187.98" y2="514" stroke="#41444f" stroke-width="0.75"/>
<rect x="186.88" y="510.8" width="2.2" height="0.60" fill="#3a3d4a"/>
<line x1="191.59" y1="499" x2="191.59" y2="512.5" stroke="#41444f" stroke-width="0.75"/>
<rect x="190.49" y="504" width="2.2" height="7.00" fill="#2457ee" stroke="#3a3d4a" stroke-width="0.45"/>
<line x1="195.20" y1="500" x2="195.20" y2="507.5" stroke="#41444f" stroke-width="0.75"/>
<rect x="194.10" y="503.7" width="2.2" height="0.60" fill="#3a3d4a"/>
<line x1="198.81" y1="497.5" x2="198.81" y2="508" stroke="#41444f" stroke-width="0.75"/>
<rect x="197.71" y="498" width="2.2" height="6.00" fill="#2457ee" stroke="#3a3d4a" stroke-width="0.45"/>
<line x1="202.42" y1="497" x2="202.42" y2="506" stroke="#41444f" stroke-width="0.75"/>
<rect x="201.32" y="498" width="2.2" height="2.50" fill="#e8382a" stroke="#3a3d4a" stroke-width="0.45"/>
<line x1="206.04" y1="499.5" x2="206.04" y2="512.5" stroke="#41444f" stroke-width="0.75"/>
<rect x="204.94" y="500" width="2.2" height="11.00" fill="#e8382a" stroke="#3a3d4a" stroke-width="0.45"/>
<line x1="209.65" y1="497.5" x2="209.65" y2="512.5" stroke="#41444f" stroke-width="0.75"/>
<rect x="208.55" y="498" width="2.2" height="13.00" fill="#2457ee" stroke="#3a3d4a" stroke-width="0.45"/>
<line x1="213.26" y1="472.5" x2="213.26" y2="498" stroke="#41444f" stroke-width="0.75"/>
<rect x="212.16" y="476" width="2.2" height="22.00" fill="#2457ee" stroke="#3a3d4a" stroke-width="0.45"/>
<line x1="216.87" y1="475.5" x2="216.87" y2="489" stroke="#41444f" stroke-width="0.75"/>
<rect x="215.77" y="476" width="2.2" height="13.00" fill="#ffffff" stroke="#3a3d4a" stroke-width="0.45"/>
<line x1="220.48" y1="484.5" x2="220.48" y2="492.5" stroke="#41444f" stroke-width="0.75"/>
<rect x="219.38" y="486" width="2.2" height="3.00" fill="#2457ee" stroke="#3a3d4a" stroke-width="0.45"/>
<line x1="224.10" y1="485" x2="224.10" y2="489" stroke="#41444f" stroke-width="0.75"/>
<rect x="223.00" y="487.2" width="2.2" height="0.60" fill="#3a3d4a"/>
<line x1="227.71" y1="485" x2="227.71" y2="489.5" stroke="#41444f" stroke-width="0.75"/>
<rect x="226.61" y="488.2" width="2.2" height="0.60" fill="#3a3d4a"/>
<line x1="231.32" y1="476" x2="231.32" y2="489" stroke="#41444f" stroke-width="0.75"/>
<rect x="230.22" y="480.5" width="2.2" height="8.50" fill="#2457ee" stroke="#3a3d4a" stroke-width="0.45"/>
<line x1="234.93" y1="460" x2="234.93" y2="480.5" stroke="#41444f" stroke-width="0.75"/>
<rect x="233.83" y="464.5" width="2.2" height="16.00" fill="#2457ee" stroke="#3a3d4a" stroke-width="0.45"/>
<line x1="238.54" y1="461" x2="238.54" y2="466" stroke="#41444f" stroke-width="0.75"/>
<rect x="237.44" y="463.7" width="2.2" height="0.60" fill="#3a3d4a"/>
<line x1="242.16" y1="461.5" x2="242.16" y2="464" stroke="#41444f" stroke-width="0.75"/>
<rect x="241.06" y="462" width="2.2" height="1.70" fill="#ffffff" stroke="#3a3d4a" stroke-width="0.45"/>
<line x1="245.77" y1="450" x2="245.77" y2="462" stroke="#41444f" stroke-width="0.75"/>
<rect x="244.67" y="450.5" width="2.2" height="11.50" fill="#2457ee" stroke="#3a3d4a" stroke-width="0.45"/>
<line x1="249.38" y1="441" x2="249.38" y2="450.5" stroke="#41444f" stroke-width="0.75"/>
<rect x="248.28" y="443" width="2.2" height="7.50" fill="#2457ee" stroke="#3a3d4a" stroke-width="0.45"/>
<line x1="252.99" y1="441" x2="252.99" y2="465.5" stroke="#41444f" stroke-width="0.75"/>
<rect x="251.89" y="443" width="2.2" height="22.50" fill="#e8382a" stroke="#3a3d4a" stroke-width="0.45"/>
<line x1="256.60" y1="452" x2="256.60" y2="465.5" stroke="#41444f" stroke-width="0.75"/>
<rect x="255.50" y="452" width="2.2" height="13.50" fill="#ffffff" stroke="#3a3d4a" stroke-width="0.45"/>
<line x1="260.22" y1="450" x2="260.22" y2="452.5" stroke="#41444f" stroke-width="0.75"/>
<rect x="259.12" y="451.7" width="2.2" height="0.60" fill="#3a3d4a"/>
<line x1="263.83" y1="451.5" x2="263.83" y2="453.5" stroke="#41444f" stroke-width="0.75"/>
<rect x="262.73" y="452" width="2.2" height="1.50" fill="#e8382a" stroke="#3a3d4a" stroke-width="0.45"/>
<line x1="267.44" y1="452" x2="267.44" y2="454" stroke="#41444f" stroke-width="0.75"/>
<rect x="266.34" y="452.7" width="2.2" height="0.60" fill="#3a3d4a"/>
<line x1="271.05" y1="451.5" x2="271.05" y2="453.5" stroke="#41444f" stroke-width="0.75"/>
<rect x="269.95" y="452" width="2.2" height="1.50" fill="#2457ee" stroke="#3a3d4a" stroke-width="0.45"/>
<line x1="274.66" y1="441.5" x2="274.66" y2="452.5" stroke="#41444f" stroke-width="0.75"/>
<rect x="273.56" y="442" width="2.2" height="10.50" fill="#2457ee" stroke="#3a3d4a" stroke-width="0.45"/>
<line x1="278.28" y1="441.5" x2="278.28" y2="454.5" stroke="#41444f" stroke-width="0.75"/>
<rect x="277.18" y="442" width="2.2" height="12.50" fill="#e8382a" stroke="#3a3d4a" stroke-width="0.45"/>
<line x1="281.89" y1="451" x2="281.89" y2="459" stroke="#41444f" stroke-width="0.75"/>
<rect x="280.79" y="454.2" width="2.2" height="0.60" fill="#3a3d4a"/>
<line x1="285.50" y1="454.5" x2="285.50" y2="467.5" stroke="#41444f" stroke-width="0.75"/>
<rect x="284.40" y="455" width="2.2" height="12.50" fill="#e8382a" stroke="#3a3d4a" stroke-width="0.45"/>
<line x1="289.11" y1="462.5" x2="289.11" y2="467.5" stroke="#41444f" stroke-width="0.75"/>
<rect x="288.01" y="463" width="2.2" height="4.50" fill="#2457ee" stroke="#3a3d4a" stroke-width="0.45"/>
<line x1="292.72" y1="462.5" x2="292.72" y2="476" stroke="#41444f" stroke-width="0.75"/>
<rect x="291.62" y="463" width="2.2" height="13.00" fill="#e8382a" stroke="#3a3d4a" stroke-width="0.45"/>
<line x1="296.34" y1="462.5" x2="296.34" y2="476" stroke="#41444f" stroke-width="0.75"/>
<rect x="295.24" y="463" width="2.2" height="13.00" fill="#2457ee" stroke="#3a3d4a" stroke-width="0.45"/>
<line x1="299.95" y1="462.5" x2="299.95" y2="477.5" stroke="#41444f" stroke-width="0.75"/>
<rect x="298.85" y="463" width="2.2" height="13.00" fill="#e8382a" stroke="#3a3d4a" stroke-width="0.45"/>
<line x1="303.56" y1="475.5" x2="303.56" y2="500" stroke="#41444f" stroke-width="0.75"/>
<rect x="302.46" y="476" width="2.2" height="21.50" fill="#e8382a" stroke="#3a3d4a" stroke-width="0.45"/>
<line x1="307.17" y1="488.5" x2="307.17" y2="497.5" stroke="#41444f" stroke-width="0.75"/>
<rect x="306.07" y="489" width="2.2" height="8.50" fill="#ffffff" stroke="#3a3d4a" stroke-width="0.45"/>
<line x1="310.78" y1="485.5" x2="310.78" y2="496" stroke="#41444f" stroke-width="0.75"/>
<rect x="309.68" y="486" width="2.2" height="3.00" fill="#ffffff" stroke="#3a3d4a" stroke-width="0.45"/>
<line x1="314.40" y1="464.5" x2="314.40" y2="488.5" stroke="#41444f" stroke-width="0.75"/>
<rect x="313.30" y="465" width="2.2" height="21.00" fill="#2457ee" stroke="#3a3d4a" stroke-width="0.45"/>
<line x1="318.01" y1="456.5" x2="318.01" y2="466.0" stroke="#41444f" stroke-width="0.75"/>
<rect x="316.91" y="463.5" width="2.2" height="2.50" fill="#2457ee" stroke="#3a3d4a" stroke-width="0.45"/>
<line x1="321.62" y1="462.5" x2="321.62" y2="464.5" stroke="#41444f" stroke-width="0.75"/>
<rect x="320.52" y="463.2" width="2.2" height="0.60" fill="#3a3d4a"/>
<line x1="325.23" y1="463.0" x2="325.23" y2="475.5" stroke="#41444f" stroke-width="0.75"/>
<rect x="324.13" y="463.5" width="2.2" height="12.00" fill="#e8382a" stroke="#3a3d4a" stroke-width="0.45"/>
<line x1="328.84" y1="468.0" x2="328.84" y2="476.0" stroke="#41444f" stroke-width="0.75"/>
<rect x="327.74" y="473.5" width="2.2" height="2.50" fill="#2457ee" stroke="#3a3d4a" stroke-width="0.45"/>
<line x1="332.46" y1="473.0" x2="332.46" y2="476.0" stroke="#41444f" stroke-width="0.75"/>
<rect x="331.36" y="473.5" width="2.2" height="2.50" fill="#ffffff" stroke="#3a3d4a" stroke-width="0.45"/>
<line x1="336.07" y1="443.5" x2="336.07" y2="476.0" stroke="#41444f" stroke-width="0.75"/>
<rect x="334.97" y="450.5" width="2.2" height="25.50" fill="#2457ee" stroke="#3a3d4a" stroke-width="0.45"/>
<line x1="339.68" y1="450.0" x2="339.68" y2="465.0" stroke="#41444f" stroke-width="0.75"/>
<rect x="338.58" y="450.5" width="2.2" height="12.00" fill="#ffffff" stroke="#3a3d4a" stroke-width="0.45"/>
<line x1="343.29" y1="462.0" x2="343.29" y2="464.5" stroke="#41444f" stroke-width="0.75"/>
<rect x="342.19" y="462.5" width="2.2" height="2.00" fill="#e8382a" stroke="#3a3d4a" stroke-width="0.45"/>
<line x1="346.90" y1="452.5" x2="346.90" y2="475.5" stroke="#41444f" stroke-width="0.75"/>
<rect x="345.80" y="454.5" width="2.2" height="10.00" fill="#2457ee" stroke="#3a3d4a" stroke-width="0.45"/>
<line x1="350.52" y1="454.0" x2="350.52" y2="464.5" stroke="#41444f" stroke-width="0.75"/>
<rect x="349.42" y="454.5" width="2.2" height="10.00" fill="#ffffff" stroke="#3a3d4a" stroke-width="0.45"/>
<line x1="354.13" y1="464.0" x2="354.13" y2="465.5" stroke="#41444f" stroke-width="0.75"/>
<rect x="353.03" y="464.5" width="2.2" height="1.00" fill="#2457ee" stroke="#3a3d4a" stroke-width="0.45"/>
<line x1="357.74" y1="462.5" x2="357.74" y2="466.0" stroke="#41444f" stroke-width="0.75"/>
<rect x="356.64" y="464.7" width="2.2" height="0.60" fill="#3a3d4a"/>
<line x1="361.35" y1="463.0" x2="361.35" y2="475.5" stroke="#41444f" stroke-width="0.75"/>
<rect x="360.25" y="465.5" width="2.2" height="10.00" fill="#e8382a" stroke="#3a3d4a" stroke-width="0.45"/>
<line x1="364.96" y1="473.0" x2="364.96" y2="476.0" stroke="#41444f" stroke-width="0.75"/>
<rect x="363.86" y="473.5" width="2.2" height="2.50" fill="#2457ee" stroke="#3a3d4a" stroke-width="0.45"/>
<line x1="368.58" y1="473.0" x2="368.58" y2="476.0" stroke="#41444f" stroke-width="0.75"/>
<rect x="367.48" y="473.5" width="2.2" height="2.50" fill="#ffffff" stroke="#3a3d4a" stroke-width="0.45"/>
<line x1="372.19" y1="475.0" x2="372.19" y2="486.5" stroke="#41444f" stroke-width="0.75"/>
<rect x="371.09" y="476.0" width="2.2" height="1.00" fill="#e8382a" stroke="#3a3d4a" stroke-width="0.45"/>
<line x1="375.80" y1="475.5" x2="375.80" y2="486.5" stroke="#41444f" stroke-width="0.75"/>
<rect x="374.70" y="476.5" width="2.2" height="0.60" fill="#3a3d4a"/>
<line x1="379.41" y1="473.0" x2="379.41" y2="482.5" stroke="#41444f" stroke-width="0.75"/>
<rect x="378.31" y="477.5" width="2.2" height="5.00" fill="#e8382a" stroke="#3a3d4a" stroke-width="0.45"/>
<line x1="383.02" y1="477.5" x2="383.02" y2="482.5" stroke="#41444f" stroke-width="0.75"/>
<rect x="381.92" y="478.0" width="2.2" height="4.50" fill="#ffffff" stroke="#3a3d4a" stroke-width="0.45"/>
<line x1="386.64" y1="469.5" x2="386.64" y2="477.5" stroke="#41444f" stroke-width="0.75"/>
<rect x="385.54" y="473.5" width="2.2" height="4.00" fill="#2457ee" stroke="#3a3d4a" stroke-width="0.45"/>
<line x1="390.25" y1="470.5" x2="390.25" y2="476.0" stroke="#41444f" stroke-width="0.75"/>
<rect x="389.15" y="473.5" width="2.2" height="2.50" fill="#ffffff" stroke="#3a3d4a" stroke-width="0.45"/>
<line x1="393.86" y1="466.0" x2="393.86" y2="476.5" stroke="#41444f" stroke-width="0.75"/>
<rect x="392.76" y="475.0" width="2.2" height="1.00" fill="#2457ee" stroke="#3a3d4a" stroke-width="0.45"/>
<line x1="397.47" y1="466.0" x2="397.47" y2="475.0" stroke="#41444f" stroke-width="0.75"/>
<rect x="396.37" y="474.2" width="2.2" height="0.60" fill="#3a3d4a"/>
<line x1="401.08" y1="474.5" x2="401.08" y2="480.5" stroke="#41444f" stroke-width="0.75"/>
<rect x="399.98" y="475.2" width="2.2" height="0.60" fill="#3a3d4a"/>
<line x1="404.70" y1="474.5" x2="404.70" y2="483.0" stroke="#41444f" stroke-width="0.75"/>
<rect x="403.60" y="474.7" width="2.2" height="0.60" fill="#3a3d4a"/>
<line x1="408.31" y1="470.0" x2="408.31" y2="475.0" stroke="#41444f" stroke-width="0.75"/>
<rect x="407.21" y="470.5" width="2.2" height="4.50" fill="#2457ee" stroke="#3a3d4a" stroke-width="0.45"/>
<line x1="411.92" y1="458.5" x2="411.92" y2="470.5" stroke="#41444f" stroke-width="0.75"/>
<rect x="410.82" y="463.5" width="2.2" height="7.00" fill="#2457ee" stroke="#3a3d4a" stroke-width="0.45"/>
<line x1="415.53" y1="461.5" x2="415.53" y2="466.0" stroke="#41444f" stroke-width="0.75"/>
<rect x="414.43" y="463.5" width="2.2" height="2.50" fill="#ffffff" stroke="#3a3d4a" stroke-width="0.45"/>
<line x1="419.14" y1="464.5" x2="419.14" y2="466.5" stroke="#41444f" stroke-width="0.75"/>
<rect x="418.04" y="465.2" width="2.2" height="0.60" fill="#3a3d4a"/>
<line x1="422.76" y1="465.5" x2="422.76" y2="467.0" stroke="#41444f" stroke-width="0.75"/>
<rect x="421.66" y="465.7" width="2.2" height="0.60" fill="#3a3d4a"/>
<line x1="426.37" y1="465.5" x2="426.37" y2="476.5" stroke="#41444f" stroke-width="0.75"/>
<rect x="425.27" y="466.0" width="2.2" height="10.50" fill="#e8382a" stroke="#3a3d4a" stroke-width="0.45"/>
<line x1="429.98" y1="476.0" x2="429.98" y2="487.5" stroke="#41444f" stroke-width="0.75"/>
<rect x="428.88" y="476.5" width="2.2" height="11.00" fill="#e8382a" stroke="#3a3d4a" stroke-width="0.45"/>
<line x1="433.59" y1="478.0" x2="433.59" y2="488.5" stroke="#41444f" stroke-width="0.75"/>
<rect x="432.49" y="487.2" width="2.2" height="0.60" fill="#3a3d4a"/>
<line x1="437.20" y1="486.5" x2="437.20" y2="488.5" stroke="#41444f" stroke-width="0.75"/>
<rect x="436.10" y="487.0" width="2.2" height="1.00" fill="#e8382a" stroke="#3a3d4a" stroke-width="0.45"/>
<line x1="440.82" y1="485.0" x2="440.82" y2="498.5" stroke="#41444f" stroke-width="0.75"/>
<rect x="439.72" y="487.5" width="2.2" height="2.00" fill="#e8382a" stroke="#3a3d4a" stroke-width="0.45"/>
<line x1="444.43" y1="488.5" x2="444.43" y2="498.5" stroke="#41444f" stroke-width="0.75"/>
<rect x="443.33" y="489.2" width="2.2" height="0.60" fill="#3a3d4a"/>
<line x1="448.04" y1="485.5" x2="448.04" y2="490.0" stroke="#41444f" stroke-width="0.75"/>
<rect x="446.94" y="487.5" width="2.2" height="2.00" fill="#2457ee" stroke="#3a3d4a" stroke-width="0.45"/>
<line x1="451.65" y1="473.5" x2="451.65" y2="488.0" stroke="#41444f" stroke-width="0.75"/>
<rect x="450.55" y="477.5" width="2.2" height="10.50" fill="#2457ee" stroke="#3a3d4a" stroke-width="0.45"/>
<line x1="455.26" y1="475.0" x2="455.26" y2="478.5" stroke="#41444f" stroke-width="0.75"/>
<rect x="454.16" y="477.2" width="2.2" height="0.60" fill="#3a3d4a"/>
<line x1="458.88" y1="454.5" x2="458.88" y2="477.5" stroke="#41444f" stroke-width="0.75"/>
<rect x="457.78" y="460.0" width="2.2" height="17.50" fill="#2457ee" stroke="#3a3d4a" stroke-width="0.45"/>
<line x1="462.49" y1="456.5" x2="462.49" y2="467.0" stroke="#41444f" stroke-width="0.75"/>
<rect x="461.39" y="460.0" width="2.2" height="6.50" fill="#ffffff" stroke="#3a3d4a" stroke-width="0.45"/>
<line x1="466.10" y1="452.0" x2="466.10" y2="466.5" stroke="#41444f" stroke-width="0.75"/>
<rect x="465.00" y="452.5" width="2.2" height="14.00" fill="#2457ee" stroke="#3a3d4a" stroke-width="0.45"/>
<line x1="469.71" y1="448.5" x2="469.71" y2="455.0" stroke="#41444f" stroke-width="0.75"/>
<rect x="468.61" y="452.7" width="2.2" height="0.60" fill="#3a3d4a"/>
<line x1="473.32" y1="446.0" x2="473.32" y2="455.0" stroke="#41444f" stroke-width="0.75"/>
<rect x="472.22" y="453.0" width="2.2" height="1.50" fill="#e8382a" stroke="#3a3d4a" stroke-width="0.45"/>
<line x1="476.94" y1="448.0" x2="476.94" y2="456.5" stroke="#41444f" stroke-width="0.75"/>
<rect x="475.84" y="454.5" width="2.2" height="1.50" fill="#e8382a" stroke="#3a3d4a" stroke-width="0.45"/>
<line x1="480.55" y1="454.5" x2="480.55" y2="463.0" stroke="#41444f" stroke-width="0.75"/>
<rect x="479.45" y="456.0" width="2.2" height="1.50" fill="#2457ee" stroke="#3a3d4a" stroke-width="0.45"/>
<line x1="484.16" y1="454.0" x2="484.16" y2="457.5" stroke="#41444f" stroke-width="0.75"/>
<rect x="483.06" y="454.5" width="2.2" height="3.00" fill="#2457ee" stroke="#3a3d4a" stroke-width="0.45"/>
<line x1="487.77" y1="443.0" x2="487.77" y2="454.5" stroke="#41444f" stroke-width="0.75"/>
<rect x="486.67" y="443.5" width="2.2" height="11.00" fill="#2457ee" stroke="#3a3d4a" stroke-width="0.45"/>
<line x1="491.38" y1="443.0" x2="491.38" y2="467.5" stroke="#41444f" stroke-width="0.75"/>
<rect x="490.28" y="443.5" width="2.2" height="22.50" fill="#e8382a" stroke="#3a3d4a" stroke-width="0.45"/>
<line x1="495.00" y1="454.5" x2="495.00" y2="466.5" stroke="#41444f" stroke-width="0.75"/>
<rect x="493.90" y="465.5" width="2.2" height="0.60" fill="#3a3d4a"/>
<line x1="498.61" y1="442.0" x2="498.61" y2="466.0" stroke="#41444f" stroke-width="0.75"/>
<rect x="497.51" y="442.5" width="2.2" height="23.50" fill="#2457ee" stroke="#3a3d4a" stroke-width="0.45"/>
<line x1="502.22" y1="442.0" x2="502.22" y2="453.0" stroke="#41444f" stroke-width="0.75"/>
<rect x="501.12" y="442.5" width="2.2" height="10.50" fill="#ffffff" stroke="#3a3d4a" stroke-width="0.45"/>
<line x1="505.83" y1="452.5" x2="505.83" y2="467.5" stroke="#41444f" stroke-width="0.75"/>
<rect x="504.73" y="453.0" width="2.2" height="14.50" fill="#e8382a" stroke="#3a3d4a" stroke-width="0.45"/>
<line x1="509.44" y1="467.0" x2="509.44" y2="489.5" stroke="#41444f" stroke-width="0.75"/>
<rect x="508.34" y="467.5" width="2.2" height="10.00" fill="#e8382a" stroke="#3a3d4a" stroke-width="0.45"/>
<line x1="513.06" y1="467.0" x2="513.06" y2="477.5" stroke="#41444f" stroke-width="0.75"/>
<rect x="511.96" y="467.5" width="2.2" height="10.00" fill="#ffffff" stroke="#3a3d4a" stroke-width="0.45"/>
<line x1="516.67" y1="465.5" x2="516.67" y2="477.5" stroke="#41444f" stroke-width="0.75"/>
<rect x="515.57" y="467.5" width="2.2" height="10.00" fill="#e8382a" stroke="#3a3d4a" stroke-width="0.45"/>
<line x1="520.28" y1="466.0" x2="520.28" y2="477.5" stroke="#41444f" stroke-width="0.75"/>
<rect x="519.18" y="475.5" width="2.2" height="2.00" fill="#ffffff" stroke="#3a3d4a" stroke-width="0.45"/>
<line x1="523.89" y1="466.0" x2="523.89" y2="476.5" stroke="#41444f" stroke-width="0.75"/>
<rect x="522.79" y="475.0" width="2.2" height="1.00" fill="#2457ee" stroke="#3a3d4a" stroke-width="0.45"/>
<line x1="527.50" y1="471.5" x2="527.50" y2="477.5" stroke="#41444f" stroke-width="0.75"/>
<rect x="526.40" y="475.0" width="2.2" height="2.50" fill="#e8382a" stroke="#3a3d4a" stroke-width="0.45"/>
<line x1="531.12" y1="465.5" x2="531.12" y2="477.5" stroke="#41444f" stroke-width="0.75"/>
<rect x="530.02" y="466.0" width="2.2" height="11.50" fill="#2457ee" stroke="#3a3d4a" stroke-width="0.45"/>
<line x1="534.73" y1="456.0" x2="534.73" y2="466.0" stroke="#41444f" stroke-width="0.75"/>
<rect x="533.63" y="458.5" width="2.2" height="7.50" fill="#2457ee" stroke="#3a3d4a" stroke-width="0.45"/>
<line x1="538.34" y1="451.0" x2="538.34" y2="459.5" stroke="#41444f" stroke-width="0.75"/>
<rect x="537.24" y="451.5" width="2.2" height="8.00" fill="#2457ee" stroke="#3a3d4a" stroke-width="0.45"/>
<line x1="541.95" y1="451.0" x2="541.95" y2="456.0" stroke="#41444f" stroke-width="0.75"/>
<rect x="540.85" y="451.5" width="2.2" height="2.00" fill="#ffffff" stroke="#3a3d4a" stroke-width="0.45"/>
<line x1="545.56" y1="452.5" x2="545.56" y2="454.0" stroke="#41444f" stroke-width="0.75"/>
<rect x="544.46" y="452.7" width="2.2" height="0.60" fill="#3a3d4a"/>
<line x1="549.18" y1="452.5" x2="549.18" y2="454.0" stroke="#41444f" stroke-width="0.75"/>
<rect x="548.08" y="452.7" width="2.2" height="0.60" fill="#3a3d4a"/>
<line x1="552.79" y1="442.0" x2="552.79" y2="453.0" stroke="#41444f" stroke-width="0.75"/>
<rect x="551.69" y="442.5" width="2.2" height="10.50" fill="#2457ee" stroke="#3a3d4a" stroke-width="0.45"/>
<line x1="556.40" y1="442.0" x2="556.40" y2="458.0" stroke="#41444f" stroke-width="0.75"/>
<rect x="555.30" y="442.5" width="2.2" height="10.50" fill="#e8382a" stroke="#3a3d4a" stroke-width="0.45"/>
<line x1="560.01" y1="452.5" x2="560.01" y2="464.5" stroke="#41444f" stroke-width="0.75"/>
<rect x="558.91" y="453.0" width="2.2" height="11.50" fill="#e8382a" stroke="#3a3d4a" stroke-width="0.45"/>
<line x1="563.62" y1="464.0" x2="563.62" y2="467.5" stroke="#41444f" stroke-width="0.75"/>
<rect x="562.52" y="464.5" width="2.2" height="3.00" fill="#e8382a" stroke="#3a3d4a" stroke-width="0.45"/>
<line x1="567.24" y1="465.0" x2="567.24" y2="478.0" stroke="#41444f" stroke-width="0.75"/>
<rect x="566.14" y="466.5" width="2.2" height="3.50" fill="#e8382a" stroke="#3a3d4a" stroke-width="0.45"/>
<line x1="570.85" y1="461.5" x2="570.85" y2="470.0" stroke="#41444f" stroke-width="0.75"/>
<rect x="569.75" y="466.0" width="2.2" height="4.00" fill="#2457ee" stroke="#3a3d4a" stroke-width="0.45"/>
<line x1="574.46" y1="463.0" x2="574.46" y2="466.5" stroke="#41444f" stroke-width="0.75"/>
<rect x="573.36" y="463.5" width="2.2" height="3.00" fill="#ffffff" stroke="#3a3d4a" stroke-width="0.45"/>
<line x1="578.07" y1="457.5" x2="578.07" y2="465.0" stroke="#41444f" stroke-width="0.75"/>
<rect x="576.97" y="464.2" width="2.2" height="0.60" fill="#3a3d4a"/>
<line x1="581.68" y1="457.5" x2="581.68" y2="464.0" stroke="#41444f" stroke-width="0.75"/>
<rect x="580.58" y="463.2" width="2.2" height="0.60" fill="#3a3d4a"/>
<line x1="585.30" y1="463.0" x2="585.30" y2="466.0" stroke="#41444f" stroke-width="0.75"/>
<rect x="584.20" y="463.5" width="2.2" height="2.50" fill="#e8382a" stroke="#3a3d4a" stroke-width="0.45"/>
<line x1="588.91" y1="465.5" x2="588.91" y2="467.0" stroke="#41444f" stroke-width="0.75"/>
<rect x="587.81" y="465.7" width="2.2" height="0.60" fill="#3a3d4a"/>
<line x1="592.52" y1="465.5" x2="592.52" y2="475.0" stroke="#41444f" stroke-width="0.75"/>
<rect x="591.42" y="466.0" width="2.2" height="1.50" fill="#e8382a" stroke="#3a3d4a" stroke-width="0.45"/>
<line x1="596.13" y1="461.0" x2="596.13" y2="467.5" stroke="#41444f" stroke-width="0.75"/>
<rect x="595.03" y="464.5" width="2.2" height="3.00" fill="#2457ee" stroke="#3a3d4a" stroke-width="0.45"/>
<line x1="599.74" y1="465.0" x2="599.74" y2="467.5" stroke="#41444f" stroke-width="0.75"/>
<rect x="598.64" y="465.2" width="2.2" height="0.60" fill="#3a3d4a"/>
<line x1="603.36" y1="461.5" x2="603.36" y2="466.5" stroke="#41444f" stroke-width="0.75"/>
<rect x="602.26" y="464.5" width="2.2" height="1.50" fill="#e8382a" stroke="#3a3d4a" stroke-width="0.45"/>
<line x1="606.97" y1="465.5" x2="606.97" y2="466.5" stroke="#41444f" stroke-width="0.75"/>
<rect x="605.87" y="465.7" width="2.2" height="0.60" fill="#3a3d4a"/>
<line x1="610.58" y1="443.0" x2="610.58" y2="466.0" stroke="#41444f" stroke-width="0.75"/>
<rect x="609.48" y="443.5" width="2.2" height="22.50" fill="#2457ee" stroke="#3a3d4a" stroke-width="0.45"/>
<line x1="614.19" y1="440.0" x2="614.19" y2="443.5" stroke="#41444f" stroke-width="0.75"/>
<rect x="613.09" y="441.5" width="2.2" height="2.00" fill="#2457ee" stroke="#3a3d4a" stroke-width="0.45"/>
<line x1="617.80" y1="442.0" x2="617.80" y2="447.5" stroke="#41444f" stroke-width="0.75"/>
<rect x="616.70" y="442.2" width="2.2" height="0.60" fill="#3a3d4a"/>
<line x1="621.42" y1="442.0" x2="621.42" y2="455.5" stroke="#41444f" stroke-width="0.75"/>
<rect x="620.32" y="442.5" width="2.2" height="13.00" fill="#e8382a" stroke="#3a3d4a" stroke-width="0.45"/>
<line x1="625.03" y1="453.5" x2="625.03" y2="455.5" stroke="#41444f" stroke-width="0.75"/>
<rect x="623.93" y="454.2" width="2.2" height="0.60" fill="#3a3d4a"/>
<line x1="628.64" y1="451.5" x2="628.64" y2="454.5" stroke="#41444f" stroke-width="0.75"/>
<rect x="627.54" y="452" width="2.2" height="2.50" fill="#2457ee" stroke="#3a3d4a" stroke-width="0.45"/>
<line x1="632.25" y1="452" x2="632.25" y2="470" stroke="#41444f" stroke-width="0.75"/>
<rect x="631.15" y="452.5" width="2.2" height="17.50" fill="#e8382a" stroke="#3a3d4a" stroke-width="0.45"/>
<line x1="635.86" y1="464.5" x2="635.86" y2="472" stroke="#41444f" stroke-width="0.75"/>
<rect x="634.76" y="465" width="2.2" height="5.50" fill="#2457ee" stroke="#3a3d4a" stroke-width="0.45"/>
<line x1="639.48" y1="464.5" x2="639.48" y2="471" stroke="#41444f" stroke-width="0.75"/>
<rect x="638.38" y="465" width="2.2" height="2.50" fill="#ffffff" stroke="#3a3d4a" stroke-width="0.45"/>
<line x1="643.09" y1="465" x2="643.09" y2="467.5" stroke="#41444f" stroke-width="0.75"/>
<rect x="641.99" y="465.5" width="2.2" height="1.50" fill="#2457ee" stroke="#3a3d4a" stroke-width="0.45"/>
<line x1="646.70" y1="464.5" x2="646.70" y2="470" stroke="#41444f" stroke-width="0.75"/>
<rect x="645.60" y="465" width="2.2" height="5.00" fill="#e8382a" stroke="#3a3d4a" stroke-width="0.45"/>
<line x1="650.31" y1="450" x2="650.31" y2="470" stroke="#41444f" stroke-width="0.75"/>
<rect x="649.21" y="452" width="2.2" height="18.00" fill="#2457ee" stroke="#3a3d4a" stroke-width="0.45"/>
<line x1="653.92" y1="451" x2="653.92" y2="453" stroke="#41444f" stroke-width="0.75"/>
<rect x="652.82" y="451.7" width="2.2" height="0.60" fill="#3a3d4a"/>
<line x1="657.54" y1="450.5" x2="657.54" y2="464" stroke="#41444f" stroke-width="0.75"/>
<rect x="656.44" y="451" width="2.2" height="13.00" fill="#e8382a" stroke="#3a3d4a" stroke-width="0.45"/>
<line x1="661.15" y1="463" x2="661.15" y2="465" stroke="#41444f" stroke-width="0.75"/>
<rect x="660.05" y="463.5" width="2.2" height="1.00" fill="#e8382a" stroke="#3a3d4a" stroke-width="0.45"/>
<line x1="664.76" y1="460.5" x2="664.76" y2="465" stroke="#41444f" stroke-width="0.75"/>
<rect x="663.66" y="461" width="2.2" height="4.00" fill="#2457ee" stroke="#3a3d4a" stroke-width="0.45"/>
<line x1="668.37" y1="451" x2="668.37" y2="462.5" stroke="#41444f" stroke-width="0.75"/>
<rect x="667.27" y="461.5" width="2.2" height="0.60" fill="#3a3d4a"/>
<line x1="671.98" y1="450.5" x2="671.98" y2="462" stroke="#41444f" stroke-width="0.75"/>
<rect x="670.88" y="451" width="2.2" height="11.00" fill="#2457ee" stroke="#3a3d4a" stroke-width="0.45"/>
<line x1="675.60" y1="450" x2="675.60" y2="452" stroke="#41444f" stroke-width="0.75"/>
<rect x="674.50" y="450.7" width="2.2" height="0.60" fill="#3a3d4a"/>
<line x1="679.21" y1="441.5" x2="679.21" y2="453" stroke="#41444f" stroke-width="0.75"/>
<rect x="678.11" y="442" width="2.2" height="9.75" fill="#2457ee" stroke="#3a3d4a" stroke-width="0.45"/>
<line x1="682.82" y1="440" x2="682.82" y2="442.5" stroke="#41444f" stroke-width="0.75"/>
<rect x="681.72" y="441.7" width="2.2" height="0.60" fill="#3a3d4a"/>
<line x1="686.43" y1="440" x2="686.43" y2="442" stroke="#41444f" stroke-width="0.75"/>
<rect x="685.33" y="440.7" width="2.2" height="0.60" fill="#3a3d4a"/>
<line x1="690.04" y1="440.5" x2="690.04" y2="451.75" stroke="#41444f" stroke-width="0.75"/>
<rect x="688.94" y="441" width="2.2" height="2.00" fill="#e8382a" stroke="#3a3d4a" stroke-width="0.45"/>
<line x1="693.66" y1="441" x2="693.66" y2="447.5" stroke="#41444f" stroke-width="0.75"/>
<rect x="692.56" y="441.75" width="2.2" height="1.25" fill="#ffffff" stroke="#3a3d4a" stroke-width="0.45"/>
<line x1="697.27" y1="441" x2="697.27" y2="443" stroke="#41444f" stroke-width="0.75"/>
<rect x="696.17" y="441.5" width="2.2" height="0.60" fill="#3a3d4a"/>
<line x1="700.88" y1="441" x2="700.88" y2="446" stroke="#41444f" stroke-width="0.75"/>
<rect x="699.78" y="441.75" width="2.2" height="1.25" fill="#e8382a" stroke="#3a3d4a" stroke-width="0.45"/>
<line x1="704.49" y1="441.5" x2="704.49" y2="443.5" stroke="#41444f" stroke-width="0.75"/>
<rect x="703.39" y="442.2" width="2.2" height="0.60" fill="#3a3d4a"/>
<line x1="708.10" y1="441.5" x2="708.10" y2="454.5" stroke="#41444f" stroke-width="0.75"/>
<rect x="707.00" y="442" width="2.2" height="11.00" fill="#e8382a" stroke="#3a3d4a" stroke-width="0.45"/>
<line x1="711.72" y1="442.5" x2="711.72" y2="452.5" stroke="#41444f" stroke-width="0.75"/>
<rect x="710.62" y="449" width="2.2" height="3.50" fill="#ffffff" stroke="#3a3d4a" stroke-width="0.45"/>
<line x1="715.33" y1="446" x2="715.33" y2="453" stroke="#41444f" stroke-width="0.75"/>
<rect x="714.23" y="448.75" width="2.2" height="3.00" fill="#ffffff" stroke="#3a3d4a" stroke-width="0.45"/>
<line x1="718.94" y1="441.5" x2="718.94" y2="451.75" stroke="#41444f" stroke-width="0.75"/>
<rect x="717.84" y="442" width="2.2" height="9.75" fill="#2457ee" stroke="#3a3d4a" stroke-width="0.45"/>
<line x1="722.55" y1="441.5" x2="722.55" y2="451" stroke="#41444f" stroke-width="0.75"/>
<rect x="721.45" y="442" width="2.2" height="9.00" fill="#d4d5da" stroke="#3a3d4a" stroke-width="0.45"/>
<line x1="726.16" y1="451" x2="726.16" y2="452.5" stroke="#41444f" stroke-width="0.75"/>
<rect x="725.06" y="451.5" width="2.2" height="0.60" fill="#3a3d4a"/>
<line x1="729.78" y1="451" x2="729.78" y2="452.5" stroke="#41444f" stroke-width="0.75"/>
<rect x="728.68" y="451.5" width="2.2" height="0.60" fill="#3a3d4a"/>
<line x1="733.39" y1="430.5" x2="733.39" y2="452.5" stroke="#41444f" stroke-width="0.75"/>
<rect x="732.29" y="436" width="2.2" height="16.50" fill="#2457ee" stroke="#3a3d4a" stroke-width="0.45"/>
<line x1="737.00" y1="433.5" x2="737.00" y2="441" stroke="#41444f" stroke-width="0.75"/>
<rect x="735.90" y="436" width="2.2" height="5.00" fill="#ffffff" stroke="#3a3d4a" stroke-width="0.45"/>
<line x1="740.61" y1="432" x2="740.61" y2="441" stroke="#41444f" stroke-width="0.75"/>
<rect x="739.51" y="434.5" width="2.2" height="6.50" fill="#2457ee" stroke="#3a3d4a" stroke-width="0.45"/>
<line x1="744.22" y1="418.5" x2="744.22" y2="440" stroke="#41444f" stroke-width="0.75"/>
<rect x="743.12" y="419" width="2.2" height="15.50" fill="#2457ee" stroke="#3a3d4a" stroke-width="0.45"/>
<line x1="747.84" y1="418.5" x2="747.84" y2="424" stroke="#41444f" stroke-width="0.75"/>
<rect x="746.74" y="418.7" width="2.2" height="0.60" fill="#3a3d4a"/>
<line x1="751.45" y1="404.5" x2="751.45" y2="419" stroke="#41444f" stroke-width="0.75"/>
<rect x="750.35" y="405" width="2.2" height="14.00" fill="#2457ee" stroke="#3a3d4a" stroke-width="0.45"/>
<line x1="755.06" y1="403.5" x2="755.06" y2="406" stroke="#41444f" stroke-width="0.75"/>
<rect x="753.96" y="404" width="2.2" height="1.50" fill="#2457ee" stroke="#3a3d4a" stroke-width="0.45"/>
<line x1="758.67" y1="370" x2="758.67" y2="404" stroke="#41444f" stroke-width="0.75"/>
<rect x="757.57" y="370.5" width="2.2" height="33.50" fill="#2457ee" stroke="#3a3d4a" stroke-width="0.45"/>
<line x1="762.28" y1="369.5" x2="762.28" y2="375" stroke="#41444f" stroke-width="0.75"/>
<rect x="761.18" y="370" width="2.2" height="2.00" fill="#e8382a" stroke="#3a3d4a" stroke-width="0.45"/>
<line x1="765.90" y1="360" x2="765.90" y2="371.75" stroke="#41444f" stroke-width="0.75"/>
<rect x="764.80" y="362.5" width="2.2" height="9.25" fill="#2457ee" stroke="#3a3d4a" stroke-width="0.45"/>
<line x1="769.51" y1="358.75" x2="769.51" y2="371.75" stroke="#41444f" stroke-width="0.75"/>
<rect x="768.41" y="362.5" width="2.2" height="9.25" fill="#e8382a" stroke="#3a3d4a" stroke-width="0.45"/>
<line x1="773.12" y1="368.5" x2="773.12" y2="374" stroke="#41444f" stroke-width="0.75"/>
<rect x="772.02" y="371.5" width="2.2" height="0.60" fill="#3a3d4a"/>
<line x1="776.73" y1="371" x2="776.73" y2="374.5" stroke="#41444f" stroke-width="0.75"/>
<rect x="775.63" y="371.5" width="2.2" height="0.60" fill="#3a3d4a"/>
<line x1="780.34" y1="371" x2="780.34" y2="383.5" stroke="#41444f" stroke-width="0.75"/>
<rect x="779.24" y="371.75" width="2.2" height="10.25" fill="#e8382a" stroke="#3a3d4a" stroke-width="0.45"/>
<line x1="783.96" y1="380" x2="783.96" y2="386" stroke="#41444f" stroke-width="0.75"/>
<rect x="782.86" y="382" width="2.2" height="1.75" fill="#e8382a" stroke="#3a3d4a" stroke-width="0.45"/>
<line x1="787.57" y1="382.5" x2="787.57" y2="397.5" stroke="#41444f" stroke-width="0.75"/>
<rect x="786.47" y="383" width="2.2" height="14.50" fill="#e8382a" stroke="#3a3d4a" stroke-width="0.45"/>
<line x1="791.18" y1="370" x2="791.18" y2="397.5" stroke="#41444f" stroke-width="0.75"/>
<rect x="790.08" y="372.5" width="2.2" height="25.00" fill="#2457ee" stroke="#3a3d4a" stroke-width="0.45"/>
<line x1="794.79" y1="371.5" x2="794.79" y2="381" stroke="#41444f" stroke-width="0.75"/>
<rect x="793.69" y="371.7" width="2.2" height="0.60" fill="#3a3d4a"/>
<text x="1248" y="346.8" font-size="5.6" text-anchor="start" fill="#3b3f4a" font-weight="normal" font-style="normal" textLength="19.8" lengthAdjust="spacingAndGlyphs">1.37380</text>
<text x="1248" y="369.94" font-size="5.6" text-anchor="start" fill="#3b3f4a" font-weight="normal" font-style="normal" textLength="19.8" lengthAdjust="spacingAndGlyphs">1.37360</text>
<text x="1248" y="393.08000000000004" font-size="5.6" text-anchor="start" fill="#3b3f4a" font-weight="normal" font-style="normal" textLength="19.8" lengthAdjust="spacingAndGlyphs">1.37340</text>
<text x="1248" y="416.22" font-size="5.6" text-anchor="start" fill="#3b3f4a" font-weight="normal" font-style="normal" textLength="19.8" lengthAdjust="spacingAndGlyphs">1.37320</text>
<text x="1248" y="439.36" font-size="5.6" text-anchor="start" fill="#3b3f4a" font-weight="normal" font-style="normal" textLength="19.8" lengthAdjust="spacingAndGlyphs">1.37300</text>
<text x="1248" y="462.5" font-size="5.6" text-anchor="start" fill="#3b3f4a" font-weight="normal" font-style="normal" textLength="19.8" lengthAdjust="spacingAndGlyphs">1.37280</text>
<text x="1248" y="485.64" font-size="5.6" text-anchor="start" fill="#3b3f4a" font-weight="normal" font-style="normal" textLength="19.8" lengthAdjust="spacingAndGlyphs">1.37260</text>
<text x="1248" y="508.78000000000003" font-size="5.6" text-anchor="start" fill="#3b3f4a" font-weight="normal" font-style="normal" textLength="19.8" lengthAdjust="spacingAndGlyphs">1.37240</text>
<text x="1248" y="531.9200000000001" font-size="5.6" text-anchor="start" fill="#3b3f4a" font-weight="normal" font-style="normal" textLength="19.8" lengthAdjust="spacingAndGlyphs">1.37220</text>
<text x="1248" y="555.06" font-size="5.6" text-anchor="start" fill="#3b3f4a" font-weight="normal" font-style="normal" textLength="19.8" lengthAdjust="spacingAndGlyphs">1.37200</text>
<text x="1248" y="578.2" font-size="5.6" text-anchor="start" fill="#3b3f4a" font-weight="normal" font-style="normal" textLength="19.8" lengthAdjust="spacingAndGlyphs">1.37180</text>
<text x="1248" y="601.34" font-size="5.6" text-anchor="start" fill="#3b3f4a" font-weight="normal" font-style="normal" textLength="19.8" lengthAdjust="spacingAndGlyphs">1.37160</text>
<text x="1248" y="624.48" font-size="5.6" text-anchor="start" fill="#3b3f4a" font-weight="normal" font-style="normal" textLength="19.8" lengthAdjust="spacingAndGlyphs">1.37140</text>
<rect x="1243.5" y="367.5" width="27.799999999999955" height="15.0" fill="#131722"/>
<text x="1247.5" y="374.3" font-size="5.6" text-anchor="start" fill="#fff" font-weight="bold" font-style="normal" textLength="20.5" lengthAdjust="spacingAndGlyphs">1.37357</text>
<text x="1247.5" y="380.2" font-size="5.4" text-anchor="start" fill="#fff" font-weight="normal" font-style="normal" textLength="13" lengthAdjust="spacingAndGlyphs">00:40</text>
<text x="14.6" y="636.9" font-size="5.5" text-anchor="middle" fill="#3b3f4a" font-weight="normal" font-style="normal">09:15</text>
<text x="68.78" y="636.9" font-size="5.5" text-anchor="middle" fill="#3b3f4a" font-weight="normal" font-style="normal">09:30</text>
<text x="122.96" y="636.9" font-size="5.5" text-anchor="middle" fill="#3b3f4a" font-weight="normal" font-style="normal">09:45</text>
<text x="177.14" y="636.9" font-size="5.5" text-anchor="middle" fill="#3b3f4a" font-weight="bold" font-style="normal">10:00</text>
<text x="231.32" y="636.9" font-size="5.5" text-anchor="middle" fill="#3b3f4a" font-weight="normal" font-style="normal">10:15</text>
<text x="285.5" y="636.9" font-size="5.5" text-anchor="middle" fill="#3b3f4a" font-weight="normal" font-style="normal">10:30</text>
<text x="339.68" y="636.9" font-size="5.5" text-anchor="middle" fill="#3b3f4a" font-weight="normal" font-style="normal">10:45</text>
<text x="393.86" y="636.9" font-size="5.5" text-anchor="middle" fill="#3b3f4a" font-weight="bold" font-style="normal">11:00</text>
<text x="448.04" y="636.9" font-size="5.5" text-anchor="middle" fill="#3b3f4a" font-weight="normal" font-style="normal">11:15</text>
<text x="502.22" y="636.9" font-size="5.5" text-anchor="middle" fill="#3b3f4a" font-weight="normal" font-style="normal">11:30</text>
<text x="556.4" y="636.9" font-size="5.5" text-anchor="middle" fill="#3b3f4a" font-weight="normal" font-style="normal">11:45</text>
<text x="610.58" y="636.9" font-size="5.5" text-anchor="middle" fill="#3b3f4a" font-weight="bold" font-style="normal">12:00</text>
<text x="664.76" y="636.9" font-size="5.5" text-anchor="middle" fill="#3b3f4a" font-weight="normal" font-style="normal">12:15</text>
<text x="718.94" y="636.9" font-size="5.5" text-anchor="middle" fill="#3b3f4a" font-weight="normal" font-style="normal">12:30</text>
<text x="773.12" y="636.9" font-size="5.5" text-anchor="middle" fill="#3b3f4a" font-weight="normal" font-style="normal">12:45</text>
<text x="827.3000000000001" y="636.9" font-size="5.5" text-anchor="middle" fill="#3b3f4a" font-weight="bold" font-style="normal">13:00</text>
<text x="881.48" y="636.9" font-size="5.5" text-anchor="middle" fill="#3b3f4a" font-weight="normal" font-style="normal">13:15</text>
<text x="935.66" y="636.9" font-size="5.5" text-anchor="middle" fill="#3b3f4a" font-weight="normal" font-style="normal">13:30</text>
<text x="989.84" y="636.9" font-size="5.5" text-anchor="middle" fill="#3b3f4a" font-weight="normal" font-style="normal">13:45</text>
<text x="1044.02" y="636.9" font-size="5.5" text-anchor="middle" fill="#3b3f4a" font-weight="bold" font-style="normal">14:00</text>
<text x="1098.1999999999998" y="636.9" font-size="5.5" text-anchor="middle" fill="#3b3f4a" font-weight="normal" font-style="normal">14:15</text>
<text x="1152.3799999999999" y="636.9" font-size="5.5" text-anchor="middle" fill="#3b3f4a" font-weight="normal" font-style="normal">14:30</text>
<text x="1206.56" y="636.9" font-size="5.5" text-anchor="middle" fill="#3b3f4a" font-weight="normal" font-style="normal">14:45</text>
<g fill="#131722" transform="translate(0,0.9)"><rect x="5" y="647.3" width="3.6" height="1.9"/><rect x="6.7" y="647.3" width="1.9" height="5.4"/><circle cx="10" cy="648.3" r="0.95"/><path d="M11.3 647.3h2.6l-2.3 5.4h-2.5z"/></g>
<text x="16.2" y="652.7" font-size="6.3" text-anchor="start" fill="#3b3f4a" font-weight="normal" font-style="normal" textLength="33.3" lengthAdjust="spacingAndGlyphs">TradingView</text>
<g opacity="0.999">
<rect x="1084" y="612" width="26" height="29" fill="#fff"/>
<path d="M1093.5 616.5h7a5 5 0 0 1 5 5v7.5a5 5 0 0 1 -5 5h-4l-4 3.6v-3.8a5 5 0 0 1 -4 -4.9v-7.4a5 5 0 0 1 5 -5z" transform="translate(1,1)" fill="none" stroke="#2a2a2a" stroke-width="1.5"/>
<path d="M1093.5 616.5h7a5 5 0 0 1 5 5v7.5a5 5 0 0 1 -5 5h-4l-4 3.6v-3.8a5 5 0 0 1 -4 -4.9v-7.4a5 5 0 0 1 5 -5z" fill="none" stroke="#fff" stroke-width="1.8"/>
<path d="M1090 625.2h2.6 M1096 624.4h2.4" transform="translate(0.8,0.8)" stroke="#2a2a2a" stroke-width="1.2" fill="none"/>
<path d="M1090 625.2h2.6 M1096 624.4h2.4" stroke="#fff" stroke-width="1.4" fill="none"/>
<g font-size="27.3" font-weight="normal">
<text x="1114.1" y="634.6" fill="#333" textLength="153" lengthAdjust="spacingAndGlyphs">@SMC Trader</text>
<text x="1113" y="633.6" fill="#ffffff" stroke="#fff" stroke-width="0.5" textLength="153" lengthAdjust="spacingAndGlyphs">@SMC Trader</text>
</g></g>
</svg></body></html>
